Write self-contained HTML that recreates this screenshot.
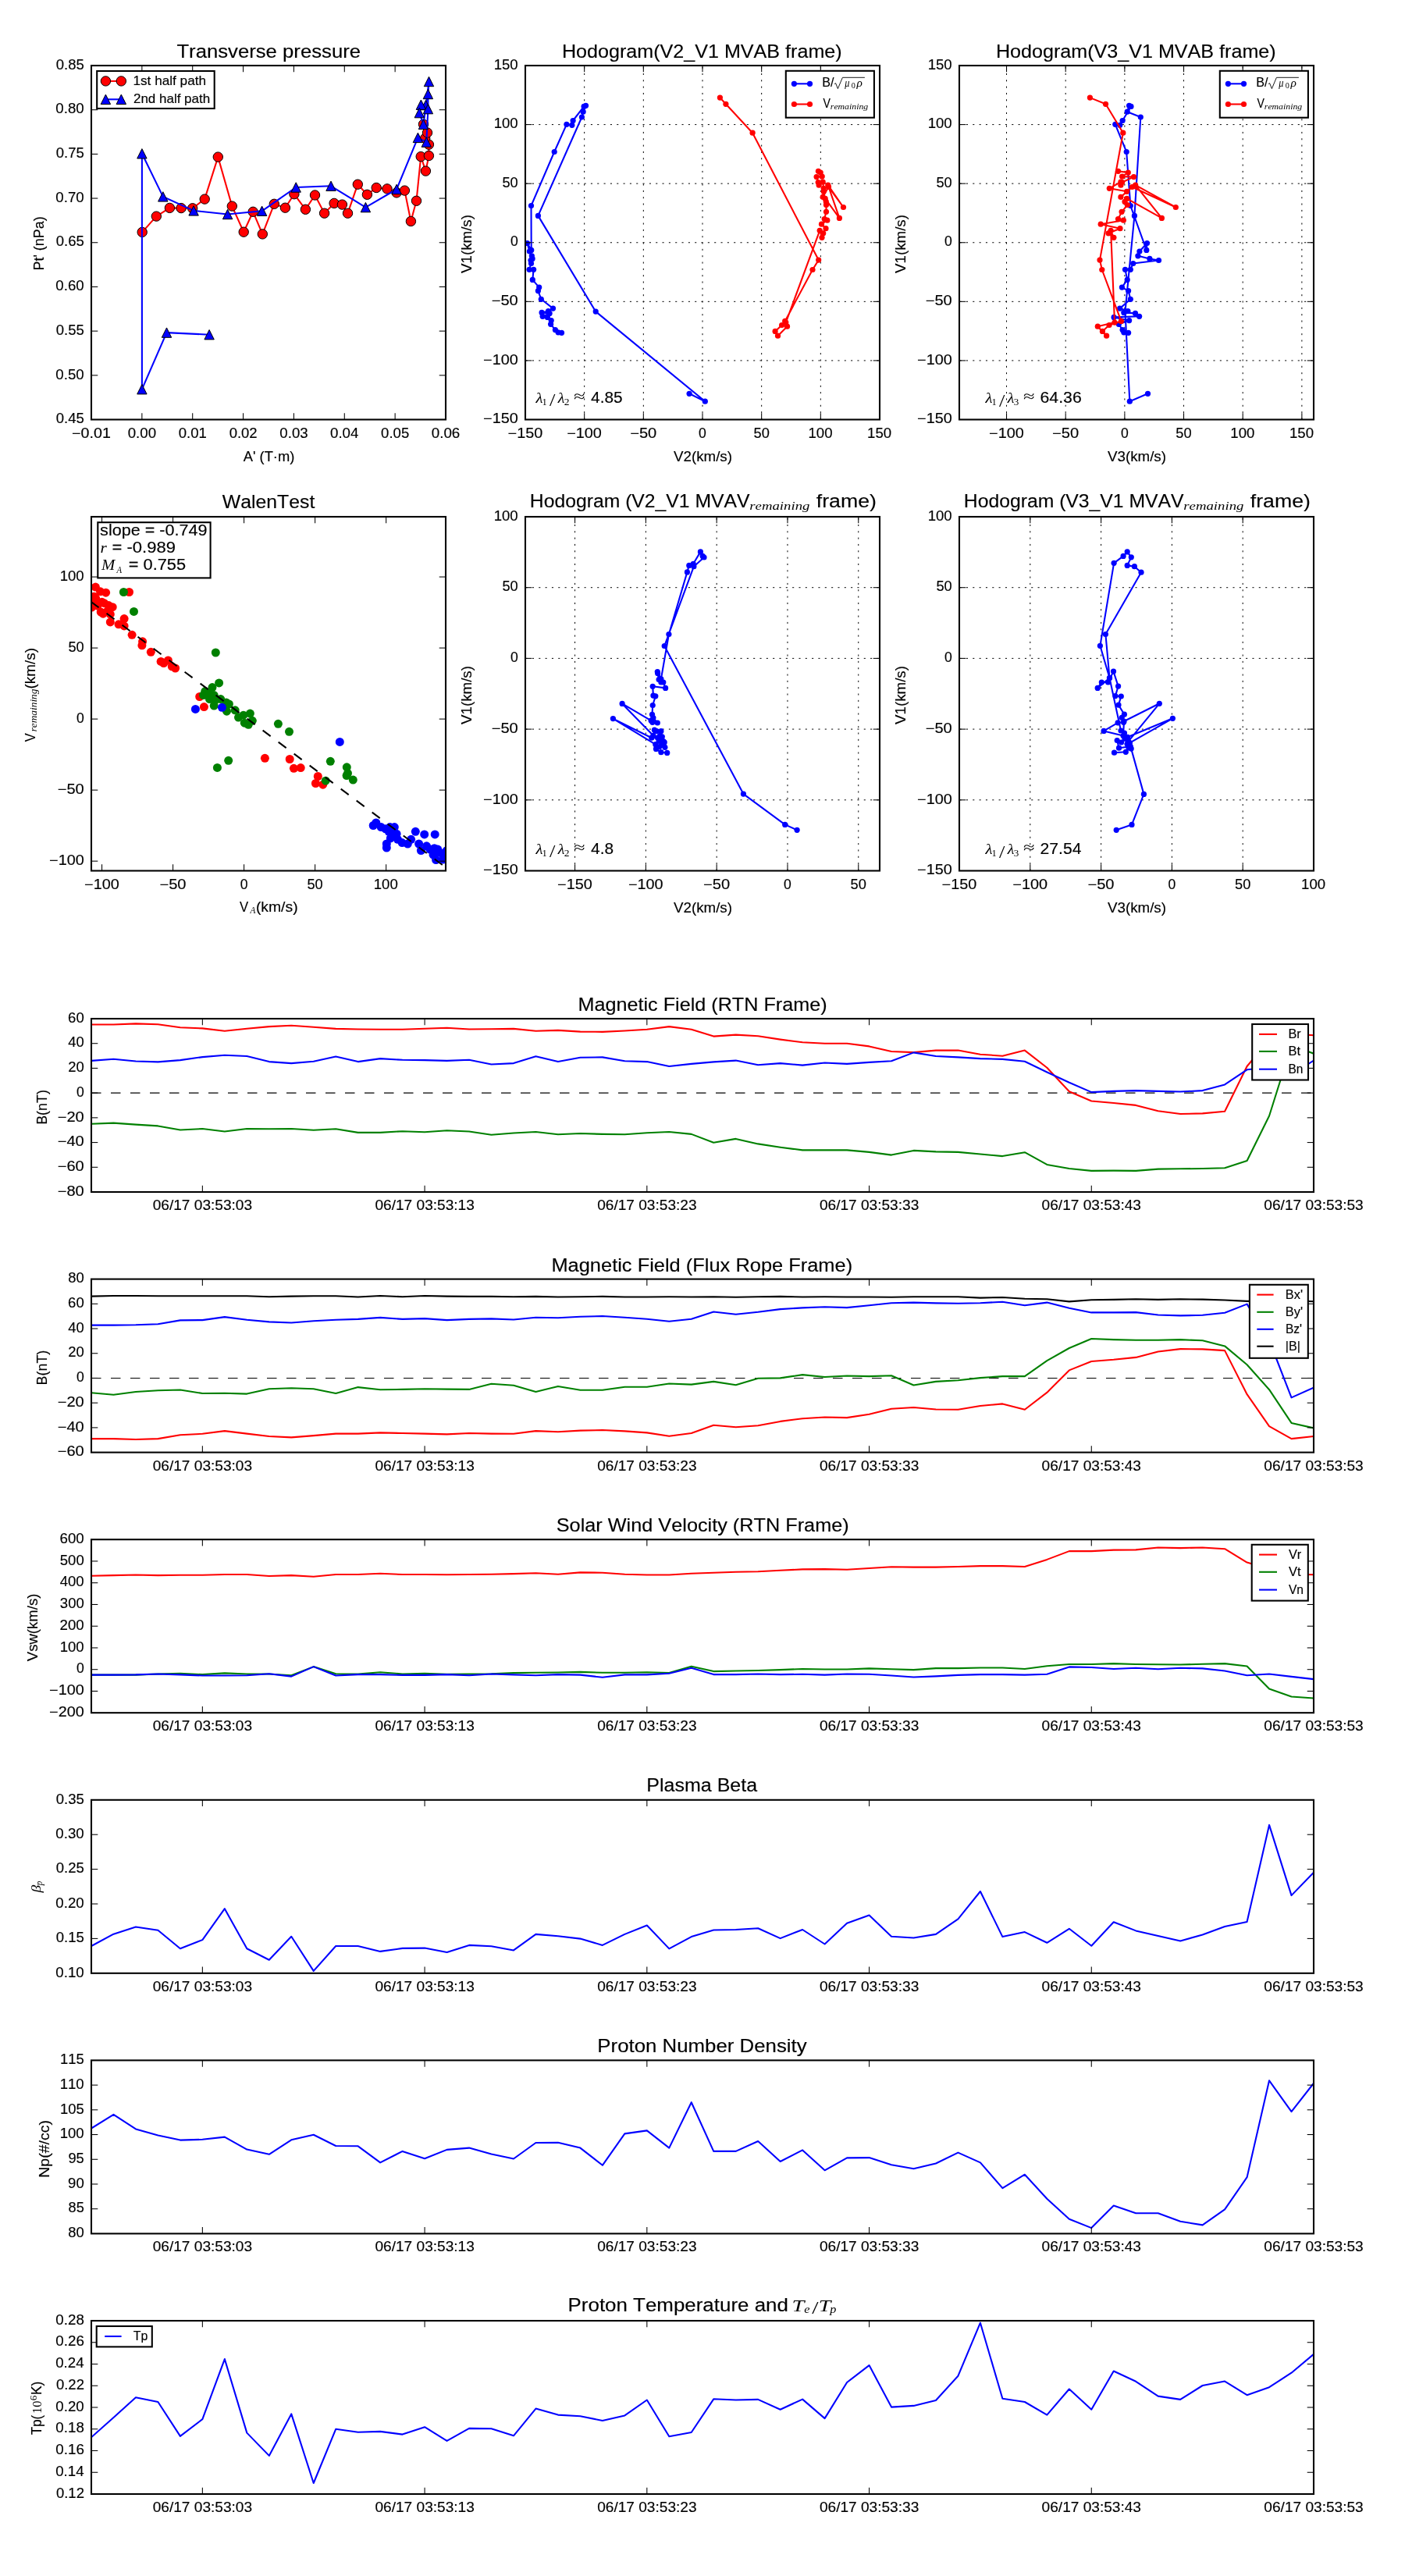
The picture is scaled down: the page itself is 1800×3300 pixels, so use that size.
<!DOCTYPE html>
<html><head><meta charset="utf-8"><style>html,body{margin:0;padding:0;background:#fff;}svg{display:block;will-change:transform;}</style></head><body>
<svg width="1800" height="3300" viewBox="0 0 1800 3300" font-family='"Liberation Sans", sans-serif'>
<style>text{stroke:#000;stroke-width:0.15px;font-kerning:none;font-feature-settings:"kern" 0,"liga" 0;font-variant-ligatures:none;}</style>
<rect width="1800" height="3300" fill="#fff"/>
<clipPath id="cA"><rect x="117" y="84" width="454" height="453.5"/></clipPath>
<g clip-path="url(#cA)">
<polyline points="182.2,297.4 200.3,277.1 217.4,266.4 232.1,266.6 246.7,266.8 262.2,255.1 279.3,201.1 297.3,264.1 312.2,297.2 324.2,271.3 336.3,299.9 351.3,261.3 365.4,266.2 376.9,248.7 391.4,268.3 403.5,250 415.6,273.2 428.1,260.4 438.4,262.1 445.5,273.2 458.3,236.2 470.4,249.3 482.2,240.5 496,241.9 508.1,246.9 518.4,244.1 526.4,283.5 533.5,257.3 539.2,200.6 545.4,219.1 549.4,199.5 549.4,185.2 544.7,177.2 547.5,170 542.5,159.2" fill="none" stroke="#ff0000" stroke-width="2.08" stroke-linejoin="round"/>
<circle cx="182.2" cy="297.4" r="6.2" fill="#ff0000" stroke="#000" stroke-width="1"/>
<circle cx="200.3" cy="277.1" r="6.2" fill="#ff0000" stroke="#000" stroke-width="1"/>
<circle cx="217.4" cy="266.4" r="6.2" fill="#ff0000" stroke="#000" stroke-width="1"/>
<circle cx="232.1" cy="266.6" r="6.2" fill="#ff0000" stroke="#000" stroke-width="1"/>
<circle cx="246.7" cy="266.8" r="6.2" fill="#ff0000" stroke="#000" stroke-width="1"/>
<circle cx="262.2" cy="255.1" r="6.2" fill="#ff0000" stroke="#000" stroke-width="1"/>
<circle cx="279.3" cy="201.1" r="6.2" fill="#ff0000" stroke="#000" stroke-width="1"/>
<circle cx="297.3" cy="264.1" r="6.2" fill="#ff0000" stroke="#000" stroke-width="1"/>
<circle cx="312.2" cy="297.2" r="6.2" fill="#ff0000" stroke="#000" stroke-width="1"/>
<circle cx="324.2" cy="271.3" r="6.2" fill="#ff0000" stroke="#000" stroke-width="1"/>
<circle cx="336.3" cy="299.9" r="6.2" fill="#ff0000" stroke="#000" stroke-width="1"/>
<circle cx="351.3" cy="261.3" r="6.2" fill="#ff0000" stroke="#000" stroke-width="1"/>
<circle cx="365.4" cy="266.2" r="6.2" fill="#ff0000" stroke="#000" stroke-width="1"/>
<circle cx="376.9" cy="248.7" r="6.2" fill="#ff0000" stroke="#000" stroke-width="1"/>
<circle cx="391.4" cy="268.3" r="6.2" fill="#ff0000" stroke="#000" stroke-width="1"/>
<circle cx="403.5" cy="250" r="6.2" fill="#ff0000" stroke="#000" stroke-width="1"/>
<circle cx="415.6" cy="273.2" r="6.2" fill="#ff0000" stroke="#000" stroke-width="1"/>
<circle cx="428.1" cy="260.4" r="6.2" fill="#ff0000" stroke="#000" stroke-width="1"/>
<circle cx="438.4" cy="262.1" r="6.2" fill="#ff0000" stroke="#000" stroke-width="1"/>
<circle cx="445.5" cy="273.2" r="6.2" fill="#ff0000" stroke="#000" stroke-width="1"/>
<circle cx="458.3" cy="236.2" r="6.2" fill="#ff0000" stroke="#000" stroke-width="1"/>
<circle cx="470.4" cy="249.3" r="6.2" fill="#ff0000" stroke="#000" stroke-width="1"/>
<circle cx="482.2" cy="240.5" r="6.2" fill="#ff0000" stroke="#000" stroke-width="1"/>
<circle cx="496" cy="241.9" r="6.2" fill="#ff0000" stroke="#000" stroke-width="1"/>
<circle cx="508.1" cy="246.9" r="6.2" fill="#ff0000" stroke="#000" stroke-width="1"/>
<circle cx="518.4" cy="244.1" r="6.2" fill="#ff0000" stroke="#000" stroke-width="1"/>
<circle cx="526.4" cy="283.5" r="6.2" fill="#ff0000" stroke="#000" stroke-width="1"/>
<circle cx="533.5" cy="257.3" r="6.2" fill="#ff0000" stroke="#000" stroke-width="1"/>
<circle cx="539.2" cy="200.6" r="6.2" fill="#ff0000" stroke="#000" stroke-width="1"/>
<circle cx="545.4" cy="219.1" r="6.2" fill="#ff0000" stroke="#000" stroke-width="1"/>
<circle cx="549.4" cy="199.5" r="6.2" fill="#ff0000" stroke="#000" stroke-width="1"/>
<circle cx="549.4" cy="185.2" r="6.2" fill="#ff0000" stroke="#000" stroke-width="1"/>
<circle cx="544.7" cy="177.2" r="6.2" fill="#ff0000" stroke="#000" stroke-width="1"/>
<circle cx="547.5" cy="170" r="6.2" fill="#ff0000" stroke="#000" stroke-width="1"/>
<circle cx="542.5" cy="159.2" r="6.2" fill="#ff0000" stroke="#000" stroke-width="1"/>
<polyline points="545.5,134.6 539.4,134.2 537.3,144.6 542.5,159.3 549.5,104.5 548.4,120.5 548.4,139.6 546.3,182.1 535.4,176.4 508.1,242.5 468.4,265.6 424,238.3 379.2,240 335.6,270.3 291.6,274.5 248.1,269.9 208.8,251.9 181.9,196.8 181.9,498.7 213.5,426.1 268.1,428.7" fill="none" stroke="#0000ff" stroke-width="2.08" stroke-linejoin="round"/>
<path d="M545.5 128.4L539.3 140.8L551.7 140.8Z" fill="#0000ff" stroke="#000" stroke-width="1"/>
<path d="M539.4 128L533.2 140.4L545.6 140.4Z" fill="#0000ff" stroke="#000" stroke-width="1"/>
<path d="M537.3 138.4L531.1 150.8L543.5 150.8Z" fill="#0000ff" stroke="#000" stroke-width="1"/>
<path d="M542.5 153.1L536.3 165.5L548.7 165.5Z" fill="#0000ff" stroke="#000" stroke-width="1"/>
<path d="M549.5 98.3L543.3 110.7L555.7 110.7Z" fill="#0000ff" stroke="#000" stroke-width="1"/>
<path d="M548.4 114.3L542.2 126.7L554.6 126.7Z" fill="#0000ff" stroke="#000" stroke-width="1"/>
<path d="M548.4 133.4L542.2 145.8L554.6 145.8Z" fill="#0000ff" stroke="#000" stroke-width="1"/>
<path d="M546.3 175.9L540.1 188.3L552.5 188.3Z" fill="#0000ff" stroke="#000" stroke-width="1"/>
<path d="M535.4 170.2L529.2 182.6L541.6 182.6Z" fill="#0000ff" stroke="#000" stroke-width="1"/>
<path d="M508.1 236.3L501.9 248.7L514.3 248.7Z" fill="#0000ff" stroke="#000" stroke-width="1"/>
<path d="M468.4 259.4L462.2 271.8L474.6 271.8Z" fill="#0000ff" stroke="#000" stroke-width="1"/>
<path d="M424 232.1L417.8 244.5L430.2 244.5Z" fill="#0000ff" stroke="#000" stroke-width="1"/>
<path d="M379.2 233.8L373 246.2L385.4 246.2Z" fill="#0000ff" stroke="#000" stroke-width="1"/>
<path d="M335.6 264.1L329.4 276.5L341.8 276.5Z" fill="#0000ff" stroke="#000" stroke-width="1"/>
<path d="M291.6 268.3L285.4 280.7L297.8 280.7Z" fill="#0000ff" stroke="#000" stroke-width="1"/>
<path d="M248.1 263.7L241.9 276.1L254.3 276.1Z" fill="#0000ff" stroke="#000" stroke-width="1"/>
<path d="M208.8 245.7L202.6 258.1L215 258.1Z" fill="#0000ff" stroke="#000" stroke-width="1"/>
<path d="M181.9 190.6L175.7 203L188.1 203Z" fill="#0000ff" stroke="#000" stroke-width="1"/>
<path d="M181.9 492.5L175.7 504.9L188.1 504.9Z" fill="#0000ff" stroke="#000" stroke-width="1"/>
<path d="M213.5 419.9L207.3 432.3L219.7 432.3Z" fill="#0000ff" stroke="#000" stroke-width="1"/>
<path d="M268.1 422.5L261.9 434.9L274.3 434.9Z" fill="#0000ff" stroke="#000" stroke-width="1"/>
</g>
<rect x="117" y="84" width="454" height="453.5" fill="none" stroke="#000" stroke-width="2.08"/>
<line x1="181.86" y1="537.5" x2="181.86" y2="529.2" stroke="#000" stroke-width="1.05"/>
<line x1="181.86" y1="84" x2="181.86" y2="92.3" stroke="#000" stroke-width="1.05"/>
<line x1="246.71" y1="537.5" x2="246.71" y2="529.2" stroke="#000" stroke-width="1.05"/>
<line x1="246.71" y1="84" x2="246.71" y2="92.3" stroke="#000" stroke-width="1.05"/>
<line x1="311.57" y1="537.5" x2="311.57" y2="529.2" stroke="#000" stroke-width="1.05"/>
<line x1="311.57" y1="84" x2="311.57" y2="92.3" stroke="#000" stroke-width="1.05"/>
<line x1="376.43" y1="537.5" x2="376.43" y2="529.2" stroke="#000" stroke-width="1.05"/>
<line x1="376.43" y1="84" x2="376.43" y2="92.3" stroke="#000" stroke-width="1.05"/>
<line x1="441.29" y1="537.5" x2="441.29" y2="529.2" stroke="#000" stroke-width="1.05"/>
<line x1="441.29" y1="84" x2="441.29" y2="92.3" stroke="#000" stroke-width="1.05"/>
<line x1="506.14" y1="537.5" x2="506.14" y2="529.2" stroke="#000" stroke-width="1.05"/>
<line x1="506.14" y1="84" x2="506.14" y2="92.3" stroke="#000" stroke-width="1.05"/>
<line x1="117" y1="480.81" x2="125.3" y2="480.81" stroke="#000" stroke-width="1.05"/>
<line x1="571" y1="480.81" x2="562.7" y2="480.81" stroke="#000" stroke-width="1.05"/>
<line x1="117" y1="424.12" x2="125.3" y2="424.12" stroke="#000" stroke-width="1.05"/>
<line x1="571" y1="424.12" x2="562.7" y2="424.12" stroke="#000" stroke-width="1.05"/>
<line x1="117" y1="367.44" x2="125.3" y2="367.44" stroke="#000" stroke-width="1.05"/>
<line x1="571" y1="367.44" x2="562.7" y2="367.44" stroke="#000" stroke-width="1.05"/>
<line x1="117" y1="310.75" x2="125.3" y2="310.75" stroke="#000" stroke-width="1.05"/>
<line x1="571" y1="310.75" x2="562.7" y2="310.75" stroke="#000" stroke-width="1.05"/>
<line x1="117" y1="254.06" x2="125.3" y2="254.06" stroke="#000" stroke-width="1.05"/>
<line x1="571" y1="254.06" x2="562.7" y2="254.06" stroke="#000" stroke-width="1.05"/>
<line x1="117" y1="197.38" x2="125.3" y2="197.38" stroke="#000" stroke-width="1.05"/>
<line x1="571" y1="197.38" x2="562.7" y2="197.38" stroke="#000" stroke-width="1.05"/>
<line x1="117" y1="140.69" x2="125.3" y2="140.69" stroke="#000" stroke-width="1.05"/>
<line x1="571" y1="140.69" x2="562.7" y2="140.69" stroke="#000" stroke-width="1.05"/>
<text x="92.14" y="560.5" font-size="17.5" textLength="49.71" lengthAdjust="spacingAndGlyphs">−0.01</text>
<text x="163.67" y="560.5" font-size="17.5" textLength="36.37" lengthAdjust="spacingAndGlyphs">0.00</text>
<text x="228.75" y="560.5" font-size="17.5" textLength="36.11" lengthAdjust="spacingAndGlyphs">0.01</text>
<text x="293.67" y="560.5" font-size="17.5" textLength="36" lengthAdjust="spacingAndGlyphs">0.02</text>
<text x="358.36" y="560.5" font-size="17.5" textLength="36.23" lengthAdjust="spacingAndGlyphs">0.03</text>
<text x="423.01" y="560.5" font-size="17.5" textLength="36.36" lengthAdjust="spacingAndGlyphs">0.04</text>
<text x="488.14" y="560.5" font-size="17.5" textLength="36.06" lengthAdjust="spacingAndGlyphs">0.05</text>
<text x="552.78" y="560.5" font-size="17.5" textLength="36.53" lengthAdjust="spacingAndGlyphs">0.06</text>
<text x="71.71" y="542.2" font-size="17.5" textLength="36.06" lengthAdjust="spacingAndGlyphs">0.45</text>
<text x="71.36" y="485.51" font-size="17.5" textLength="36.37" lengthAdjust="spacingAndGlyphs">0.50</text>
<text x="71.71" y="428.82" font-size="17.5" textLength="36.06" lengthAdjust="spacingAndGlyphs">0.55</text>
<text x="71.36" y="372.14" font-size="17.5" textLength="36.37" lengthAdjust="spacingAndGlyphs">0.60</text>
<text x="71.71" y="315.45" font-size="17.5" textLength="36.06" lengthAdjust="spacingAndGlyphs">0.65</text>
<text x="71.36" y="258.76" font-size="17.5" textLength="36.37" lengthAdjust="spacingAndGlyphs">0.70</text>
<text x="71.71" y="202.08" font-size="17.5" textLength="36.06" lengthAdjust="spacingAndGlyphs">0.75</text>
<text x="71.36" y="145.39" font-size="17.5" textLength="36.37" lengthAdjust="spacingAndGlyphs">0.80</text>
<text x="71.71" y="88.7" font-size="17.5" textLength="36.06" lengthAdjust="spacingAndGlyphs">0.85</text>
<text x="226.42" y="74.05" font-size="24.57" textLength="235.62" lengthAdjust="spacingAndGlyphs">Transverse pressure</text>
<text x="311.74" y="590.8" font-size="17.5" textLength="65.62" lengthAdjust="spacingAndGlyphs">A' (T·m)</text>
<text transform="translate(55.9 311.75) rotate(-90)" x="-34.71" y="0" font-size="17.5" textLength="69.07" lengthAdjust="spacingAndGlyphs">Pt' (nPa)</text>
<rect x="124.2" y="91" width="150.5" height="48" fill="#fff" stroke="#000" stroke-width="2.08"/>
<line x1="135.4" y1="103.9" x2="155.3" y2="103.9" stroke="#ff0000" stroke-width="2.08"/>
<circle cx="135.4" cy="103.9" r="6.2" fill="#ff0000" stroke="#000" stroke-width="1"/>
<circle cx="155.3" cy="103.9" r="6.2" fill="#ff0000" stroke="#000" stroke-width="1"/>
<line x1="135.4" y1="127.3" x2="155.3" y2="127.3" stroke="#0000ff" stroke-width="2.08"/>
<path d="M135.4 121.1L129.2 133.5L141.6 133.5Z" fill="#0000ff" stroke="#000" stroke-width="1"/>
<path d="M155.3 121.1L149.1 133.5L161.5 133.5Z" fill="#0000ff" stroke="#000" stroke-width="1"/>
<text x="170.49" y="109.1" font-size="16.2" textLength="93.52" lengthAdjust="spacingAndGlyphs">1st half path</text>
<text x="170.95" y="131.8" font-size="16.2" textLength="98.26" lengthAdjust="spacingAndGlyphs">2nd half path</text>
<clipPath id="cB"><rect x="673" y="84" width="454" height="453.5"/></clipPath>
<line x1="748.67" y1="537.5" x2="748.67" y2="84" stroke="#000" stroke-width="1" stroke-dasharray="2.08 6.25"/>
<line x1="824.33" y1="537.5" x2="824.33" y2="84" stroke="#000" stroke-width="1" stroke-dasharray="2.08 6.25"/>
<line x1="900" y1="537.5" x2="900" y2="84" stroke="#000" stroke-width="1" stroke-dasharray="2.08 6.25"/>
<line x1="975.67" y1="537.5" x2="975.67" y2="84" stroke="#000" stroke-width="1" stroke-dasharray="2.08 6.25"/>
<line x1="1051.33" y1="537.5" x2="1051.33" y2="84" stroke="#000" stroke-width="1" stroke-dasharray="2.08 6.25"/>
<line x1="673" y1="461.92" x2="1127" y2="461.92" stroke="#000" stroke-width="1" stroke-dasharray="2.08 6.25" stroke-dashoffset="-0.6"/>
<line x1="673" y1="386.33" x2="1127" y2="386.33" stroke="#000" stroke-width="1" stroke-dasharray="2.08 6.25" stroke-dashoffset="-0.6"/>
<line x1="673" y1="310.75" x2="1127" y2="310.75" stroke="#000" stroke-width="1" stroke-dasharray="2.08 6.25" stroke-dashoffset="-0.6"/>
<line x1="673" y1="235.17" x2="1127" y2="235.17" stroke="#000" stroke-width="1" stroke-dasharray="2.08 6.25" stroke-dashoffset="-0.6"/>
<line x1="673" y1="159.58" x2="1127" y2="159.58" stroke="#000" stroke-width="1" stroke-dasharray="2.08 6.25" stroke-dashoffset="-0.6"/>
<g clip-path="url(#cB)">
<polyline points="719.5,426.3 715.1,425.8 711.4,422.6 705.6,415.3 706.2,410.6 701.4,406.4 695.2,405.3 704.1,401.4 694.1,400.4 702.5,398.5 708.5,395.1 693.3,383.3 689.4,372.6 690.7,368.1 682.3,358.4 683.6,345.3 678.1,345.3 680.5,337.5 680,333.5 682.1,331.4 681.3,327.8 678.4,322 675.5,311.5 680.7,320.4 680.5,263.5 710.2,194.5 725.9,159.3 732.8,160.3 734.1,154.5 748.1,136.4 750.5,135.3 747.1,143.2 745.4,150 689.4,276.4 763.2,399.1 903.3,514.2 883.1,504.3" fill="none" stroke="#0000ff" stroke-width="2.08" stroke-linejoin="round"/>
<circle cx="719.5" cy="426.3" r="3.6" fill="#0000ff"/>
<circle cx="715.1" cy="425.8" r="3.6" fill="#0000ff"/>
<circle cx="711.4" cy="422.6" r="3.6" fill="#0000ff"/>
<circle cx="705.6" cy="415.3" r="3.6" fill="#0000ff"/>
<circle cx="706.2" cy="410.6" r="3.6" fill="#0000ff"/>
<circle cx="701.4" cy="406.4" r="3.6" fill="#0000ff"/>
<circle cx="695.2" cy="405.3" r="3.6" fill="#0000ff"/>
<circle cx="704.1" cy="401.4" r="3.6" fill="#0000ff"/>
<circle cx="694.1" cy="400.4" r="3.6" fill="#0000ff"/>
<circle cx="702.5" cy="398.5" r="3.6" fill="#0000ff"/>
<circle cx="708.5" cy="395.1" r="3.6" fill="#0000ff"/>
<circle cx="693.3" cy="383.3" r="3.6" fill="#0000ff"/>
<circle cx="689.4" cy="372.6" r="3.6" fill="#0000ff"/>
<circle cx="690.7" cy="368.1" r="3.6" fill="#0000ff"/>
<circle cx="682.3" cy="358.4" r="3.6" fill="#0000ff"/>
<circle cx="683.6" cy="345.3" r="3.6" fill="#0000ff"/>
<circle cx="678.1" cy="345.3" r="3.6" fill="#0000ff"/>
<circle cx="680.5" cy="337.5" r="3.6" fill="#0000ff"/>
<circle cx="680" cy="333.5" r="3.6" fill="#0000ff"/>
<circle cx="682.1" cy="331.4" r="3.6" fill="#0000ff"/>
<circle cx="681.3" cy="327.8" r="3.6" fill="#0000ff"/>
<circle cx="678.4" cy="322" r="3.6" fill="#0000ff"/>
<circle cx="675.5" cy="311.5" r="3.6" fill="#0000ff"/>
<circle cx="680.7" cy="320.4" r="3.6" fill="#0000ff"/>
<circle cx="680.5" cy="263.5" r="3.6" fill="#0000ff"/>
<circle cx="710.2" cy="194.5" r="3.6" fill="#0000ff"/>
<circle cx="725.9" cy="159.3" r="3.6" fill="#0000ff"/>
<circle cx="732.8" cy="160.3" r="3.6" fill="#0000ff"/>
<circle cx="734.1" cy="154.5" r="3.6" fill="#0000ff"/>
<circle cx="748.1" cy="136.4" r="3.6" fill="#0000ff"/>
<circle cx="750.5" cy="135.3" r="3.6" fill="#0000ff"/>
<circle cx="747.1" cy="143.2" r="3.6" fill="#0000ff"/>
<circle cx="745.4" cy="150" r="3.6" fill="#0000ff"/>
<circle cx="689.4" cy="276.4" r="3.6" fill="#0000ff"/>
<circle cx="763.2" cy="399.1" r="3.6" fill="#0000ff"/>
<circle cx="903.3" cy="514.2" r="3.6" fill="#0000ff"/>
<circle cx="883.1" cy="504.3" r="3.6" fill="#0000ff"/>
<polyline points="922.4,125.1 929.9,133.3 964.1,170.2 1048.7,333.1 1041,345.5 1005.7,411.4 1001.6,416.5 993.1,424.4 996.5,430.2 1008.5,418.2 1006.8,413.1 1050.2,295.3 1053,304.3 1054.7,298.8 1058,292.7 1052.5,287.2 1059.8,282.2 1056.2,280.6 1058.5,271.3 1058.5,262.5 1058.3,258.4 1057.2,254.4 1075.4,279.4 1060.8,237.2 1080.5,265.5 1061.5,239.5 1054.2,252.4 1055.2,245.3 1055.2,241.3 1054.2,233.2 1049.2,237.2 1048.2,233.5 1046.1,226.6 1053.2,226.1 1051.2,221.1 1048.4,219.3" fill="none" stroke="#ff0000" stroke-width="2.08" stroke-linejoin="round"/>
<circle cx="922.4" cy="125.1" r="3.6" fill="#ff0000"/>
<circle cx="929.9" cy="133.3" r="3.6" fill="#ff0000"/>
<circle cx="964.1" cy="170.2" r="3.6" fill="#ff0000"/>
<circle cx="1048.7" cy="333.1" r="3.6" fill="#ff0000"/>
<circle cx="1041" cy="345.5" r="3.6" fill="#ff0000"/>
<circle cx="1005.7" cy="411.4" r="3.6" fill="#ff0000"/>
<circle cx="1001.6" cy="416.5" r="3.6" fill="#ff0000"/>
<circle cx="993.1" cy="424.4" r="3.6" fill="#ff0000"/>
<circle cx="996.5" cy="430.2" r="3.6" fill="#ff0000"/>
<circle cx="1008.5" cy="418.2" r="3.6" fill="#ff0000"/>
<circle cx="1006.8" cy="413.1" r="3.6" fill="#ff0000"/>
<circle cx="1050.2" cy="295.3" r="3.6" fill="#ff0000"/>
<circle cx="1053" cy="304.3" r="3.6" fill="#ff0000"/>
<circle cx="1054.7" cy="298.8" r="3.6" fill="#ff0000"/>
<circle cx="1058" cy="292.7" r="3.6" fill="#ff0000"/>
<circle cx="1052.5" cy="287.2" r="3.6" fill="#ff0000"/>
<circle cx="1059.8" cy="282.2" r="3.6" fill="#ff0000"/>
<circle cx="1056.2" cy="280.6" r="3.6" fill="#ff0000"/>
<circle cx="1058.5" cy="271.3" r="3.6" fill="#ff0000"/>
<circle cx="1058.5" cy="262.5" r="3.6" fill="#ff0000"/>
<circle cx="1058.3" cy="258.4" r="3.6" fill="#ff0000"/>
<circle cx="1057.2" cy="254.4" r="3.6" fill="#ff0000"/>
<circle cx="1075.4" cy="279.4" r="3.6" fill="#ff0000"/>
<circle cx="1060.8" cy="237.2" r="3.6" fill="#ff0000"/>
<circle cx="1080.5" cy="265.5" r="3.6" fill="#ff0000"/>
<circle cx="1061.5" cy="239.5" r="3.6" fill="#ff0000"/>
<circle cx="1054.2" cy="252.4" r="3.6" fill="#ff0000"/>
<circle cx="1055.2" cy="245.3" r="3.6" fill="#ff0000"/>
<circle cx="1055.2" cy="241.3" r="3.6" fill="#ff0000"/>
<circle cx="1054.2" cy="233.2" r="3.6" fill="#ff0000"/>
<circle cx="1049.2" cy="237.2" r="3.6" fill="#ff0000"/>
<circle cx="1048.2" cy="233.5" r="3.6" fill="#ff0000"/>
<circle cx="1046.1" cy="226.6" r="3.6" fill="#ff0000"/>
<circle cx="1053.2" cy="226.1" r="3.6" fill="#ff0000"/>
<circle cx="1051.2" cy="221.1" r="3.6" fill="#ff0000"/>
<circle cx="1048.4" cy="219.3" r="3.6" fill="#ff0000"/>
</g>
<rect x="673" y="84" width="454" height="453.5" fill="none" stroke="#000" stroke-width="2.08"/>
<line x1="748.67" y1="537.5" x2="748.67" y2="529.2" stroke="#000" stroke-width="1.05"/>
<line x1="748.67" y1="84" x2="748.67" y2="92.3" stroke="#000" stroke-width="1.05"/>
<line x1="824.33" y1="537.5" x2="824.33" y2="529.2" stroke="#000" stroke-width="1.05"/>
<line x1="824.33" y1="84" x2="824.33" y2="92.3" stroke="#000" stroke-width="1.05"/>
<line x1="900" y1="537.5" x2="900" y2="529.2" stroke="#000" stroke-width="1.05"/>
<line x1="900" y1="84" x2="900" y2="92.3" stroke="#000" stroke-width="1.05"/>
<line x1="975.67" y1="537.5" x2="975.67" y2="529.2" stroke="#000" stroke-width="1.05"/>
<line x1="975.67" y1="84" x2="975.67" y2="92.3" stroke="#000" stroke-width="1.05"/>
<line x1="1051.33" y1="537.5" x2="1051.33" y2="529.2" stroke="#000" stroke-width="1.05"/>
<line x1="1051.33" y1="84" x2="1051.33" y2="92.3" stroke="#000" stroke-width="1.05"/>
<line x1="673" y1="461.92" x2="681.3" y2="461.92" stroke="#000" stroke-width="1.05"/>
<line x1="1127" y1="461.92" x2="1118.7" y2="461.92" stroke="#000" stroke-width="1.05"/>
<line x1="673" y1="386.33" x2="681.3" y2="386.33" stroke="#000" stroke-width="1.05"/>
<line x1="1127" y1="386.33" x2="1118.7" y2="386.33" stroke="#000" stroke-width="1.05"/>
<line x1="673" y1="310.75" x2="681.3" y2="310.75" stroke="#000" stroke-width="1.05"/>
<line x1="1127" y1="310.75" x2="1118.7" y2="310.75" stroke="#000" stroke-width="1.05"/>
<line x1="673" y1="235.17" x2="681.3" y2="235.17" stroke="#000" stroke-width="1.05"/>
<line x1="1127" y1="235.17" x2="1118.7" y2="235.17" stroke="#000" stroke-width="1.05"/>
<line x1="673" y1="159.58" x2="681.3" y2="159.58" stroke="#000" stroke-width="1.05"/>
<line x1="1127" y1="159.58" x2="1118.7" y2="159.58" stroke="#000" stroke-width="1.05"/>
<text x="650.57" y="560.5" font-size="17.5" textLength="44.67" lengthAdjust="spacingAndGlyphs">−150</text>
<text x="726.23" y="560.5" font-size="17.5" textLength="44.67" lengthAdjust="spacingAndGlyphs">−100</text>
<text x="807.19" y="560.5" font-size="17.5" textLength="34.08" lengthAdjust="spacingAndGlyphs">−50</text>
<text x="895.11" y="560.5" font-size="17.5" textLength="9.77" lengthAdjust="spacingAndGlyphs">0</text>
<text x="965.53" y="560.5" font-size="17.5" textLength="20.26" lengthAdjust="spacingAndGlyphs">50</text>
<text x="1035.48" y="560.5" font-size="17.5" textLength="31.02" lengthAdjust="spacingAndGlyphs">100</text>
<text x="1111.14" y="560.5" font-size="17.5" textLength="31.02" lengthAdjust="spacingAndGlyphs">150</text>
<text x="619.11" y="542.2" font-size="17.5" textLength="44.67" lengthAdjust="spacingAndGlyphs">−150</text>
<text x="619.11" y="466.62" font-size="17.5" textLength="44.67" lengthAdjust="spacingAndGlyphs">−100</text>
<text x="629.7" y="391.03" font-size="17.5" textLength="34.08" lengthAdjust="spacingAndGlyphs">−50</text>
<text x="653.91" y="315.45" font-size="17.5" textLength="9.77" lengthAdjust="spacingAndGlyphs">0</text>
<text x="643.45" y="239.87" font-size="17.5" textLength="20.26" lengthAdjust="spacingAndGlyphs">50</text>
<text x="632.7" y="164.28" font-size="17.5" textLength="31.02" lengthAdjust="spacingAndGlyphs">100</text>
<text x="632.7" y="88.7" font-size="17.5" textLength="31.02" lengthAdjust="spacingAndGlyphs">150</text>
<text x="719.94" y="74" font-size="24.57" textLength="358.72" lengthAdjust="spacingAndGlyphs">Hodogram(V2_V1 MVAB frame)</text>
<text x="863.09" y="590.8" font-size="17.5" textLength="74.89" lengthAdjust="spacingAndGlyphs">V2(km/s)</text>
<text transform="translate(603.8 313.05) rotate(-90)" x="-36.91" y="0" font-size="17.5" textLength="74.89" lengthAdjust="spacingAndGlyphs">V1(km/s)</text>
<rect x="1006.8" y="90.8" width="113.1" height="59.9" fill="#fff" stroke="#000" stroke-width="2.08"/>
<line x1="1017.4" y1="107.3" x2="1037.5" y2="107.3" stroke="#0000ff" stroke-width="2.08"/>
<circle cx="1017.4" cy="107.3" r="3.6" fill="#0000ff"/>
<circle cx="1037.5" cy="107.3" r="3.6" fill="#0000ff"/>
<line x1="1017.4" y1="133.5" x2="1037.5" y2="133.5" stroke="#ff0000" stroke-width="2.08"/>
<circle cx="1017.4" cy="133.5" r="3.6" fill="#ff0000"/>
<circle cx="1037.5" cy="133.5" r="3.6" fill="#ff0000"/>
<text x="1053.28" y="110.8" font-size="16.2" textLength="15.22" lengthAdjust="spacingAndGlyphs">B/</text>
<path d="M1069 107.6 L1070.6 106.6 L1073.4 113.6 L1079.4 99.3 L1107.9 99.3" fill="none" stroke="#000" stroke-width="0.9" stroke-linejoin="miter"/>
<text x="1082.31" y="110.8" font-size="14.5" font-family='"Liberation Serif", serif' font-style="italic" style="stroke:none" textLength="6.2" lengthAdjust="spacingAndGlyphs">μ</text>
<text x="1090.71" y="113.3" font-size="10.5" font-family='"Liberation Serif", serif' style="stroke:none" textLength="5.07" lengthAdjust="spacingAndGlyphs">0</text>
<text x="1097.49" y="110.8" font-size="14.5" font-family='"Liberation Serif", serif' font-style="italic" style="stroke:none" textLength="7.38" lengthAdjust="spacingAndGlyphs">ρ</text>
<text x="1054.54" y="137.7" font-size="16.2" textLength="9.42" lengthAdjust="spacingAndGlyphs">V</text>
<text x="1063.82" y="140" font-size="11" font-family='"Liberation Serif", serif' font-style="italic" style="stroke:none" textLength="48.42" lengthAdjust="spacingAndGlyphs">remaining</text>
<text x="686.51" y="515.9" font-size="19" font-family='"Liberation Serif", serif' font-style="italic" style="stroke:none" textLength="9.01" lengthAdjust="spacingAndGlyphs">λ</text>
<text x="694.5" y="518.8" font-size="13.5" font-family='"Liberation Serif", serif' style="stroke:none" textLength="6.25" lengthAdjust="spacingAndGlyphs">1</text>
<text x="704" y="520.3" font-size="24" font-family='"Liberation Serif", serif' style="stroke:none" textLength="7.4" lengthAdjust="spacingAndGlyphs">/</text>
<text x="714.89" y="515.9" font-size="19" font-family='"Liberation Serif", serif' font-style="italic" style="stroke:none" textLength="8.61" lengthAdjust="spacingAndGlyphs">λ</text>
<text x="722.81" y="518.8" font-size="13.5" font-family='"Liberation Serif", serif' style="stroke:none" textLength="6.74" lengthAdjust="spacingAndGlyphs">2</text>
<text x="735.06" y="514.1" font-size="19" font-family='"Liberation Serif", serif' style="stroke:none" textLength="14.62" lengthAdjust="spacingAndGlyphs">≈</text>
<text x="757.12" y="515.9" font-size="19.69" textLength="40.55" lengthAdjust="spacingAndGlyphs">4.85</text>
<clipPath id="cC"><rect x="1229" y="84" width="454" height="453.5"/></clipPath>
<line x1="1289.53" y1="537.5" x2="1289.53" y2="84" stroke="#000" stroke-width="1" stroke-dasharray="2.08 6.25"/>
<line x1="1365.2" y1="537.5" x2="1365.2" y2="84" stroke="#000" stroke-width="1" stroke-dasharray="2.08 6.25"/>
<line x1="1440.87" y1="537.5" x2="1440.87" y2="84" stroke="#000" stroke-width="1" stroke-dasharray="2.08 6.25"/>
<line x1="1516.53" y1="537.5" x2="1516.53" y2="84" stroke="#000" stroke-width="1" stroke-dasharray="2.08 6.25"/>
<line x1="1592.2" y1="537.5" x2="1592.2" y2="84" stroke="#000" stroke-width="1" stroke-dasharray="2.08 6.25"/>
<line x1="1667.87" y1="537.5" x2="1667.87" y2="84" stroke="#000" stroke-width="1" stroke-dasharray="2.08 6.25"/>
<line x1="1229" y1="461.92" x2="1683" y2="461.92" stroke="#000" stroke-width="1" stroke-dasharray="2.08 6.25" stroke-dashoffset="-0.6"/>
<line x1="1229" y1="386.33" x2="1683" y2="386.33" stroke="#000" stroke-width="1" stroke-dasharray="2.08 6.25" stroke-dashoffset="-0.6"/>
<line x1="1229" y1="310.75" x2="1683" y2="310.75" stroke="#000" stroke-width="1" stroke-dasharray="2.08 6.25" stroke-dashoffset="-0.6"/>
<line x1="1229" y1="235.17" x2="1683" y2="235.17" stroke="#000" stroke-width="1" stroke-dasharray="2.08 6.25" stroke-dashoffset="-0.6"/>
<line x1="1229" y1="159.58" x2="1683" y2="159.58" stroke="#000" stroke-width="1" stroke-dasharray="2.08 6.25" stroke-dashoffset="-0.6"/>
<g clip-path="url(#cC)">
<polyline points="1445.6,426.3 1439.8,425.8 1438.1,422.6 1433.3,415.3 1446.6,410.6 1427.1,406.4 1459.6,405.3 1454.5,401.4 1439.8,400.4 1444.9,398.5 1434.7,395.1 1448.3,383.3 1445.6,372.6 1437.4,368.1 1444.2,358.4 1441.5,345.3 1448.3,345.3 1451.7,337.5 1484.5,333.5 1472.9,331.4 1457.9,327.8 1459.9,322 1469.5,311.5 1468.8,320.4 1448.3,263.5 1443.2,194.5 1428.8,159.3 1434.7,160.3 1438.1,154.5 1449,136.4 1446.6,135.3 1444.2,143.2 1461.3,150 1453.4,276.4 1441.5,399.1 1447.3,514.2 1470.5,504.3" fill="none" stroke="#0000ff" stroke-width="2.08" stroke-linejoin="round"/>
<circle cx="1445.6" cy="426.3" r="3.6" fill="#0000ff"/>
<circle cx="1439.8" cy="425.8" r="3.6" fill="#0000ff"/>
<circle cx="1438.1" cy="422.6" r="3.6" fill="#0000ff"/>
<circle cx="1433.3" cy="415.3" r="3.6" fill="#0000ff"/>
<circle cx="1446.6" cy="410.6" r="3.6" fill="#0000ff"/>
<circle cx="1427.1" cy="406.4" r="3.6" fill="#0000ff"/>
<circle cx="1459.6" cy="405.3" r="3.6" fill="#0000ff"/>
<circle cx="1454.5" cy="401.4" r="3.6" fill="#0000ff"/>
<circle cx="1439.8" cy="400.4" r="3.6" fill="#0000ff"/>
<circle cx="1444.9" cy="398.5" r="3.6" fill="#0000ff"/>
<circle cx="1434.7" cy="395.1" r="3.6" fill="#0000ff"/>
<circle cx="1448.3" cy="383.3" r="3.6" fill="#0000ff"/>
<circle cx="1445.6" cy="372.6" r="3.6" fill="#0000ff"/>
<circle cx="1437.4" cy="368.1" r="3.6" fill="#0000ff"/>
<circle cx="1444.2" cy="358.4" r="3.6" fill="#0000ff"/>
<circle cx="1441.5" cy="345.3" r="3.6" fill="#0000ff"/>
<circle cx="1448.3" cy="345.3" r="3.6" fill="#0000ff"/>
<circle cx="1451.7" cy="337.5" r="3.6" fill="#0000ff"/>
<circle cx="1484.5" cy="333.5" r="3.6" fill="#0000ff"/>
<circle cx="1472.9" cy="331.4" r="3.6" fill="#0000ff"/>
<circle cx="1457.9" cy="327.8" r="3.6" fill="#0000ff"/>
<circle cx="1459.9" cy="322" r="3.6" fill="#0000ff"/>
<circle cx="1469.5" cy="311.5" r="3.6" fill="#0000ff"/>
<circle cx="1468.8" cy="320.4" r="3.6" fill="#0000ff"/>
<circle cx="1448.3" cy="263.5" r="3.6" fill="#0000ff"/>
<circle cx="1443.2" cy="194.5" r="3.6" fill="#0000ff"/>
<circle cx="1428.8" cy="159.3" r="3.6" fill="#0000ff"/>
<circle cx="1434.7" cy="160.3" r="3.6" fill="#0000ff"/>
<circle cx="1438.1" cy="154.5" r="3.6" fill="#0000ff"/>
<circle cx="1449" cy="136.4" r="3.6" fill="#0000ff"/>
<circle cx="1446.6" cy="135.3" r="3.6" fill="#0000ff"/>
<circle cx="1444.2" cy="143.2" r="3.6" fill="#0000ff"/>
<circle cx="1461.3" cy="150" r="3.6" fill="#0000ff"/>
<circle cx="1453.4" cy="276.4" r="3.6" fill="#0000ff"/>
<circle cx="1441.5" cy="399.1" r="3.6" fill="#0000ff"/>
<circle cx="1447.3" cy="514.2" r="3.6" fill="#0000ff"/>
<circle cx="1470.5" cy="504.3" r="3.6" fill="#0000ff"/>
<polyline points="1396.4,125.1 1416.5,133.3 1438.8,170.2 1409,333.1 1411.8,345.5 1436.4,411.4 1421,416.5 1412.4,424.4 1417.6,430.2 1406.3,418.2 1428,413.1 1423.1,295.3 1426.9,304.3 1420,298.8 1435,292.7 1410.2,287.2 1439.3,282.2 1432.5,280.6 1437.1,271.3 1444.4,262.5 1441,258.4 1443.6,254.4 1488.4,279.4 1454.7,237.2 1506.3,265.5 1450.4,239.5 1435.9,252.4 1443.6,245.3 1421.3,241.3 1435.9,233.2 1435.9,237.2 1437.6,233.5 1452.5,226.6 1437.6,226.1 1445.3,221.1 1432.5,219.3" fill="none" stroke="#ff0000" stroke-width="2.08" stroke-linejoin="round"/>
<circle cx="1396.4" cy="125.1" r="3.6" fill="#ff0000"/>
<circle cx="1416.5" cy="133.3" r="3.6" fill="#ff0000"/>
<circle cx="1438.8" cy="170.2" r="3.6" fill="#ff0000"/>
<circle cx="1409" cy="333.1" r="3.6" fill="#ff0000"/>
<circle cx="1411.8" cy="345.5" r="3.6" fill="#ff0000"/>
<circle cx="1436.4" cy="411.4" r="3.6" fill="#ff0000"/>
<circle cx="1421" cy="416.5" r="3.6" fill="#ff0000"/>
<circle cx="1412.4" cy="424.4" r="3.6" fill="#ff0000"/>
<circle cx="1417.6" cy="430.2" r="3.6" fill="#ff0000"/>
<circle cx="1406.3" cy="418.2" r="3.6" fill="#ff0000"/>
<circle cx="1428" cy="413.1" r="3.6" fill="#ff0000"/>
<circle cx="1423.1" cy="295.3" r="3.6" fill="#ff0000"/>
<circle cx="1426.9" cy="304.3" r="3.6" fill="#ff0000"/>
<circle cx="1420" cy="298.8" r="3.6" fill="#ff0000"/>
<circle cx="1435" cy="292.7" r="3.6" fill="#ff0000"/>
<circle cx="1410.2" cy="287.2" r="3.6" fill="#ff0000"/>
<circle cx="1439.3" cy="282.2" r="3.6" fill="#ff0000"/>
<circle cx="1432.5" cy="280.6" r="3.6" fill="#ff0000"/>
<circle cx="1437.1" cy="271.3" r="3.6" fill="#ff0000"/>
<circle cx="1444.4" cy="262.5" r="3.6" fill="#ff0000"/>
<circle cx="1441" cy="258.4" r="3.6" fill="#ff0000"/>
<circle cx="1443.6" cy="254.4" r="3.6" fill="#ff0000"/>
<circle cx="1488.4" cy="279.4" r="3.6" fill="#ff0000"/>
<circle cx="1454.7" cy="237.2" r="3.6" fill="#ff0000"/>
<circle cx="1506.3" cy="265.5" r="3.6" fill="#ff0000"/>
<circle cx="1450.4" cy="239.5" r="3.6" fill="#ff0000"/>
<circle cx="1435.9" cy="252.4" r="3.6" fill="#ff0000"/>
<circle cx="1443.6" cy="245.3" r="3.6" fill="#ff0000"/>
<circle cx="1421.3" cy="241.3" r="3.6" fill="#ff0000"/>
<circle cx="1435.9" cy="233.2" r="3.6" fill="#ff0000"/>
<circle cx="1435.9" cy="237.2" r="3.6" fill="#ff0000"/>
<circle cx="1437.6" cy="233.5" r="3.6" fill="#ff0000"/>
<circle cx="1452.5" cy="226.6" r="3.6" fill="#ff0000"/>
<circle cx="1437.6" cy="226.1" r="3.6" fill="#ff0000"/>
<circle cx="1445.3" cy="221.1" r="3.6" fill="#ff0000"/>
<circle cx="1432.5" cy="219.3" r="3.6" fill="#ff0000"/>
</g>
<rect x="1229" y="84" width="454" height="453.5" fill="none" stroke="#000" stroke-width="2.08"/>
<line x1="1289.53" y1="537.5" x2="1289.53" y2="529.2" stroke="#000" stroke-width="1.05"/>
<line x1="1289.53" y1="84" x2="1289.53" y2="92.3" stroke="#000" stroke-width="1.05"/>
<line x1="1365.2" y1="537.5" x2="1365.2" y2="529.2" stroke="#000" stroke-width="1.05"/>
<line x1="1365.2" y1="84" x2="1365.2" y2="92.3" stroke="#000" stroke-width="1.05"/>
<line x1="1440.87" y1="537.5" x2="1440.87" y2="529.2" stroke="#000" stroke-width="1.05"/>
<line x1="1440.87" y1="84" x2="1440.87" y2="92.3" stroke="#000" stroke-width="1.05"/>
<line x1="1516.53" y1="537.5" x2="1516.53" y2="529.2" stroke="#000" stroke-width="1.05"/>
<line x1="1516.53" y1="84" x2="1516.53" y2="92.3" stroke="#000" stroke-width="1.05"/>
<line x1="1592.2" y1="537.5" x2="1592.2" y2="529.2" stroke="#000" stroke-width="1.05"/>
<line x1="1592.2" y1="84" x2="1592.2" y2="92.3" stroke="#000" stroke-width="1.05"/>
<line x1="1667.87" y1="537.5" x2="1667.87" y2="529.2" stroke="#000" stroke-width="1.05"/>
<line x1="1667.87" y1="84" x2="1667.87" y2="92.3" stroke="#000" stroke-width="1.05"/>
<line x1="1229" y1="461.92" x2="1237.3" y2="461.92" stroke="#000" stroke-width="1.05"/>
<line x1="1683" y1="461.92" x2="1674.7" y2="461.92" stroke="#000" stroke-width="1.05"/>
<line x1="1229" y1="386.33" x2="1237.3" y2="386.33" stroke="#000" stroke-width="1.05"/>
<line x1="1683" y1="386.33" x2="1674.7" y2="386.33" stroke="#000" stroke-width="1.05"/>
<line x1="1229" y1="310.75" x2="1237.3" y2="310.75" stroke="#000" stroke-width="1.05"/>
<line x1="1683" y1="310.75" x2="1674.7" y2="310.75" stroke="#000" stroke-width="1.05"/>
<line x1="1229" y1="235.17" x2="1237.3" y2="235.17" stroke="#000" stroke-width="1.05"/>
<line x1="1683" y1="235.17" x2="1674.7" y2="235.17" stroke="#000" stroke-width="1.05"/>
<line x1="1229" y1="159.58" x2="1237.3" y2="159.58" stroke="#000" stroke-width="1.05"/>
<line x1="1683" y1="159.58" x2="1674.7" y2="159.58" stroke="#000" stroke-width="1.05"/>
<text x="1267.1" y="560.5" font-size="17.5" textLength="44.67" lengthAdjust="spacingAndGlyphs">−100</text>
<text x="1348.06" y="560.5" font-size="17.5" textLength="34.08" lengthAdjust="spacingAndGlyphs">−50</text>
<text x="1435.98" y="560.5" font-size="17.5" textLength="9.77" lengthAdjust="spacingAndGlyphs">0</text>
<text x="1506.39" y="560.5" font-size="17.5" textLength="20.26" lengthAdjust="spacingAndGlyphs">50</text>
<text x="1576.34" y="560.5" font-size="17.5" textLength="31.02" lengthAdjust="spacingAndGlyphs">100</text>
<text x="1652.01" y="560.5" font-size="17.5" textLength="31.02" lengthAdjust="spacingAndGlyphs">150</text>
<text x="1175.11" y="542.2" font-size="17.5" textLength="44.67" lengthAdjust="spacingAndGlyphs">−150</text>
<text x="1175.11" y="466.62" font-size="17.5" textLength="44.67" lengthAdjust="spacingAndGlyphs">−100</text>
<text x="1185.7" y="391.03" font-size="17.5" textLength="34.08" lengthAdjust="spacingAndGlyphs">−50</text>
<text x="1209.91" y="315.45" font-size="17.5" textLength="9.77" lengthAdjust="spacingAndGlyphs">0</text>
<text x="1199.45" y="239.87" font-size="17.5" textLength="20.26" lengthAdjust="spacingAndGlyphs">50</text>
<text x="1188.7" y="164.28" font-size="17.5" textLength="31.02" lengthAdjust="spacingAndGlyphs">100</text>
<text x="1188.7" y="88.7" font-size="17.5" textLength="31.02" lengthAdjust="spacingAndGlyphs">150</text>
<text x="1275.94" y="74" font-size="24.57" textLength="358.72" lengthAdjust="spacingAndGlyphs">Hodogram(V3_V1 MVAB frame)</text>
<text x="1419.09" y="590.8" font-size="17.5" textLength="74.89" lengthAdjust="spacingAndGlyphs">V3(km/s)</text>
<text transform="translate(1159.8 313.05) rotate(-90)" x="-36.91" y="0" font-size="17.5" textLength="74.89" lengthAdjust="spacingAndGlyphs">V1(km/s)</text>
<rect x="1562.8" y="90.8" width="113.1" height="59.9" fill="#fff" stroke="#000" stroke-width="2.08"/>
<line x1="1573.4" y1="107.3" x2="1593.5" y2="107.3" stroke="#0000ff" stroke-width="2.08"/>
<circle cx="1573.4" cy="107.3" r="3.6" fill="#0000ff"/>
<circle cx="1593.5" cy="107.3" r="3.6" fill="#0000ff"/>
<line x1="1573.4" y1="133.5" x2="1593.5" y2="133.5" stroke="#ff0000" stroke-width="2.08"/>
<circle cx="1573.4" cy="133.5" r="3.6" fill="#ff0000"/>
<circle cx="1593.5" cy="133.5" r="3.6" fill="#ff0000"/>
<text x="1609.28" y="110.8" font-size="16.2" textLength="15.22" lengthAdjust="spacingAndGlyphs">B/</text>
<path d="M1625 107.6 L1626.6 106.6 L1629.4 113.6 L1635.4 99.3 L1663.9 99.3" fill="none" stroke="#000" stroke-width="0.9" stroke-linejoin="miter"/>
<text x="1638.31" y="110.8" font-size="14.5" font-family='"Liberation Serif", serif' font-style="italic" style="stroke:none" textLength="6.2" lengthAdjust="spacingAndGlyphs">μ</text>
<text x="1646.71" y="113.3" font-size="10.5" font-family='"Liberation Serif", serif' style="stroke:none" textLength="5.07" lengthAdjust="spacingAndGlyphs">0</text>
<text x="1653.49" y="110.8" font-size="14.5" font-family='"Liberation Serif", serif' font-style="italic" style="stroke:none" textLength="7.38" lengthAdjust="spacingAndGlyphs">ρ</text>
<text x="1610.54" y="137.7" font-size="16.2" textLength="9.42" lengthAdjust="spacingAndGlyphs">V</text>
<text x="1619.82" y="140" font-size="11" font-family='"Liberation Serif", serif' font-style="italic" style="stroke:none" textLength="48.42" lengthAdjust="spacingAndGlyphs">remaining</text>
<text x="1262.51" y="516.1" font-size="19" font-family='"Liberation Serif", serif' font-style="italic" style="stroke:none" textLength="9.01" lengthAdjust="spacingAndGlyphs">λ</text>
<text x="1270.5" y="519" font-size="13.5" font-family='"Liberation Serif", serif' style="stroke:none" textLength="6.25" lengthAdjust="spacingAndGlyphs">1</text>
<text x="1280" y="520.5" font-size="24" font-family='"Liberation Serif", serif' style="stroke:none" textLength="7.4" lengthAdjust="spacingAndGlyphs">/</text>
<text x="1290.89" y="516.1" font-size="19" font-family='"Liberation Serif", serif' font-style="italic" style="stroke:none" textLength="8.61" lengthAdjust="spacingAndGlyphs">λ</text>
<text x="1298.77" y="519" font-size="13.5" font-family='"Liberation Serif", serif' style="stroke:none" textLength="6.54" lengthAdjust="spacingAndGlyphs">3</text>
<text x="1311.06" y="514.3" font-size="19" font-family='"Liberation Serif", serif' style="stroke:none" textLength="14.62" lengthAdjust="spacingAndGlyphs">≈</text>
<text x="1332.52" y="516.1" font-size="19.69" textLength="53.2" lengthAdjust="spacingAndGlyphs">64.36</text>
<clipPath id="cD"><rect x="117" y="662" width="454" height="453.5"/></clipPath>
<g clip-path="url(#cD)">
<circle cx="122.4" cy="752.1" r="5.5" fill="#ff0000"/>
<circle cx="128.5" cy="757.8" r="5.5" fill="#ff0000"/>
<circle cx="135.6" cy="759.2" r="5.5" fill="#ff0000"/>
<circle cx="165.5" cy="758.5" r="5.5" fill="#ff0000"/>
<circle cx="120.7" cy="764.2" r="5.5" fill="#ff0000"/>
<circle cx="122.8" cy="767" r="5.5" fill="#ff0000"/>
<circle cx="119.3" cy="772.7" r="5.5" fill="#ff0000"/>
<circle cx="130.7" cy="771.3" r="5.5" fill="#ff0000"/>
<circle cx="133.5" cy="772.7" r="5.5" fill="#ff0000"/>
<circle cx="139.2" cy="775.6" r="5.5" fill="#ff0000"/>
<circle cx="144.2" cy="777.7" r="5.5" fill="#ff0000"/>
<circle cx="129.2" cy="784.1" r="5.5" fill="#ff0000"/>
<circle cx="132.1" cy="786.2" r="5.5" fill="#ff0000"/>
<circle cx="137.8" cy="782.7" r="5.5" fill="#ff0000"/>
<circle cx="141.3" cy="786.9" r="5.5" fill="#ff0000"/>
<circle cx="141.3" cy="796.9" r="5.5" fill="#ff0000"/>
<circle cx="159.1" cy="792.6" r="5.5" fill="#ff0000"/>
<circle cx="152" cy="799.8" r="5.5" fill="#ff0000"/>
<circle cx="159.1" cy="801.9" r="5.5" fill="#ff0000"/>
<circle cx="169.1" cy="813.3" r="5.5" fill="#ff0000"/>
<circle cx="182.6" cy="821.8" r="5.5" fill="#ff0000"/>
<circle cx="181.9" cy="826.8" r="5.5" fill="#ff0000"/>
<circle cx="193.3" cy="835.3" r="5.5" fill="#ff0000"/>
<circle cx="206.1" cy="847.4" r="5.5" fill="#ff0000"/>
<circle cx="209.7" cy="849.6" r="5.5" fill="#ff0000"/>
<circle cx="215.4" cy="846" r="5.5" fill="#ff0000"/>
<circle cx="220.3" cy="853.8" r="5.5" fill="#ff0000"/>
<circle cx="224.6" cy="856" r="5.5" fill="#ff0000"/>
<circle cx="255.7" cy="892.5" r="5.5" fill="#ff0000"/>
<circle cx="261.4" cy="905.6" r="5.5" fill="#ff0000"/>
<circle cx="339.4" cy="971.3" r="5.5" fill="#ff0000"/>
<circle cx="371.2" cy="972.5" r="5.5" fill="#ff0000"/>
<circle cx="376.4" cy="984.3" r="5.5" fill="#ff0000"/>
<circle cx="385.2" cy="983.6" r="5.5" fill="#ff0000"/>
<circle cx="407.3" cy="994.5" r="5.5" fill="#ff0000"/>
<circle cx="404.4" cy="1003.5" r="5.5" fill="#ff0000"/>
<circle cx="413.7" cy="1005.2" r="5.5" fill="#ff0000"/>
<circle cx="117.5" cy="778" r="5.5" fill="#ff0000"/>
<circle cx="125" cy="776" r="5.5" fill="#ff0000"/>
<circle cx="158.4" cy="758.5" r="5.5" fill="#008000"/>
<circle cx="171.5" cy="783.4" r="5.5" fill="#008000"/>
<circle cx="280.6" cy="874.9" r="5.5" fill="#008000"/>
<circle cx="272" cy="880.6" r="5.5" fill="#008000"/>
<circle cx="262.8" cy="885.6" r="5.5" fill="#008000"/>
<circle cx="260.6" cy="890.6" r="5.5" fill="#008000"/>
<circle cx="267.8" cy="888.5" r="5.5" fill="#008000"/>
<circle cx="274.2" cy="890.6" r="5.5" fill="#008000"/>
<circle cx="268.5" cy="895.6" r="5.5" fill="#008000"/>
<circle cx="275.6" cy="897" r="5.5" fill="#008000"/>
<circle cx="282.7" cy="895.6" r="5.5" fill="#008000"/>
<circle cx="274.2" cy="904.1" r="5.5" fill="#008000"/>
<circle cx="289.8" cy="899.9" r="5.5" fill="#008000"/>
<circle cx="293.4" cy="902" r="5.5" fill="#008000"/>
<circle cx="290.5" cy="911.2" r="5.5" fill="#008000"/>
<circle cx="301.2" cy="909.8" r="5.5" fill="#008000"/>
<circle cx="305.5" cy="919.1" r="5.5" fill="#008000"/>
<circle cx="311.9" cy="916.2" r="5.5" fill="#008000"/>
<circle cx="320.4" cy="914.1" r="5.5" fill="#008000"/>
<circle cx="323.3" cy="923.3" r="5.5" fill="#008000"/>
<circle cx="313.3" cy="926.2" r="5.5" fill="#008000"/>
<circle cx="318.3" cy="928.3" r="5.5" fill="#008000"/>
<circle cx="356.4" cy="927.3" r="5.5" fill="#008000"/>
<circle cx="370.5" cy="937.3" r="5.5" fill="#008000"/>
<circle cx="292.7" cy="974.3" r="5.5" fill="#008000"/>
<circle cx="278.4" cy="983.4" r="5.5" fill="#008000"/>
<circle cx="423.3" cy="975.3" r="5.5" fill="#008000"/>
<circle cx="417.2" cy="1000.2" r="5.5" fill="#008000"/>
<circle cx="444.3" cy="982.8" r="5.5" fill="#008000"/>
<circle cx="445.5" cy="990.6" r="5.5" fill="#008000"/>
<circle cx="444.1" cy="993.5" r="5.5" fill="#008000"/>
<circle cx="452.3" cy="999.1" r="5.5" fill="#008000"/>
<circle cx="276.3" cy="836" r="5.5" fill="#008000"/>
<circle cx="250.4" cy="908.4" r="5.5" fill="#0000ff"/>
<circle cx="284.4" cy="906.3" r="5.5" fill="#0000ff"/>
<circle cx="435.3" cy="950.4" r="5.5" fill="#0000ff"/>
<circle cx="478.2" cy="1057.5" r="5.5" fill="#0000ff"/>
<circle cx="481.8" cy="1054" r="5.5" fill="#0000ff"/>
<circle cx="488.2" cy="1059.6" r="5.5" fill="#0000ff"/>
<circle cx="493.9" cy="1061.8" r="5.5" fill="#0000ff"/>
<circle cx="499.6" cy="1059.6" r="5.5" fill="#0000ff"/>
<circle cx="505.3" cy="1059.6" r="5.5" fill="#0000ff"/>
<circle cx="498.1" cy="1065.3" r="5.5" fill="#0000ff"/>
<circle cx="502.4" cy="1068.2" r="5.5" fill="#0000ff"/>
<circle cx="508.1" cy="1068.2" r="5.5" fill="#0000ff"/>
<circle cx="500.3" cy="1073.9" r="5.5" fill="#0000ff"/>
<circle cx="509.5" cy="1075.3" r="5.5" fill="#0000ff"/>
<circle cx="515.2" cy="1079.6" r="5.5" fill="#0000ff"/>
<circle cx="522.3" cy="1081" r="5.5" fill="#0000ff"/>
<circle cx="526.6" cy="1075.3" r="5.5" fill="#0000ff"/>
<circle cx="532.3" cy="1065.3" r="5.5" fill="#0000ff"/>
<circle cx="543.7" cy="1068.9" r="5.5" fill="#0000ff"/>
<circle cx="557.2" cy="1068.9" r="5.5" fill="#0000ff"/>
<circle cx="495.3" cy="1081" r="5.5" fill="#0000ff"/>
<circle cx="495.3" cy="1086" r="5.5" fill="#0000ff"/>
<circle cx="536.6" cy="1081" r="5.5" fill="#0000ff"/>
<circle cx="539.4" cy="1089.5" r="5.5" fill="#0000ff"/>
<circle cx="546.5" cy="1083.8" r="5.5" fill="#0000ff"/>
<circle cx="550.8" cy="1088.1" r="5.5" fill="#0000ff"/>
<circle cx="556.5" cy="1086.7" r="5.5" fill="#0000ff"/>
<circle cx="560.8" cy="1088.1" r="5.5" fill="#0000ff"/>
<circle cx="555.1" cy="1095.2" r="5.5" fill="#0000ff"/>
<circle cx="558.6" cy="1101.6" r="5.5" fill="#0000ff"/>
<circle cx="563.6" cy="1092.4" r="5.5" fill="#0000ff"/>
<circle cx="569.3" cy="1095.2" r="5.5" fill="#0000ff"/>
<circle cx="567.9" cy="1101" r="5.5" fill="#0000ff"/>
<circle cx="572" cy="1090" r="5.5" fill="#0000ff"/>
<line x1="116.53" y1="770.79" x2="568.38" y2="1109.22" stroke="#000" stroke-width="2.08" stroke-dasharray="12.5 12.5"/>
</g>
<rect x="117" y="662" width="454" height="453.5" fill="none" stroke="#000" stroke-width="2.08"/>
<line x1="130.55" y1="1115.5" x2="130.55" y2="1107.2" stroke="#000" stroke-width="1.05"/>
<line x1="130.55" y1="662" x2="130.55" y2="670.3" stroke="#000" stroke-width="1.05"/>
<line x1="221.58" y1="1115.5" x2="221.58" y2="1107.2" stroke="#000" stroke-width="1.05"/>
<line x1="221.58" y1="662" x2="221.58" y2="670.3" stroke="#000" stroke-width="1.05"/>
<line x1="312.6" y1="1115.5" x2="312.6" y2="1107.2" stroke="#000" stroke-width="1.05"/>
<line x1="312.6" y1="662" x2="312.6" y2="670.3" stroke="#000" stroke-width="1.05"/>
<line x1="403.62" y1="1115.5" x2="403.62" y2="1107.2" stroke="#000" stroke-width="1.05"/>
<line x1="403.62" y1="662" x2="403.62" y2="670.3" stroke="#000" stroke-width="1.05"/>
<line x1="494.65" y1="1115.5" x2="494.65" y2="1107.2" stroke="#000" stroke-width="1.05"/>
<line x1="494.65" y1="662" x2="494.65" y2="670.3" stroke="#000" stroke-width="1.05"/>
<line x1="117" y1="1103.15" x2="125.3" y2="1103.15" stroke="#000" stroke-width="1.05"/>
<line x1="571" y1="1103.15" x2="562.7" y2="1103.15" stroke="#000" stroke-width="1.05"/>
<line x1="117" y1="1012.12" x2="125.3" y2="1012.12" stroke="#000" stroke-width="1.05"/>
<line x1="571" y1="1012.12" x2="562.7" y2="1012.12" stroke="#000" stroke-width="1.05"/>
<line x1="117" y1="921.1" x2="125.3" y2="921.1" stroke="#000" stroke-width="1.05"/>
<line x1="571" y1="921.1" x2="562.7" y2="921.1" stroke="#000" stroke-width="1.05"/>
<line x1="117" y1="830.08" x2="125.3" y2="830.08" stroke="#000" stroke-width="1.05"/>
<line x1="571" y1="830.08" x2="562.7" y2="830.08" stroke="#000" stroke-width="1.05"/>
<line x1="117" y1="739.05" x2="125.3" y2="739.05" stroke="#000" stroke-width="1.05"/>
<line x1="571" y1="739.05" x2="562.7" y2="739.05" stroke="#000" stroke-width="1.05"/>
<text x="108.12" y="1138.5" font-size="17.5" textLength="44.67" lengthAdjust="spacingAndGlyphs">−100</text>
<text x="204.43" y="1138.5" font-size="17.5" textLength="34.08" lengthAdjust="spacingAndGlyphs">−50</text>
<text x="307.71" y="1138.5" font-size="17.5" textLength="9.77" lengthAdjust="spacingAndGlyphs">0</text>
<text x="393.49" y="1138.5" font-size="17.5" textLength="20.26" lengthAdjust="spacingAndGlyphs">50</text>
<text x="478.79" y="1138.5" font-size="17.5" textLength="31.02" lengthAdjust="spacingAndGlyphs">100</text>
<text x="63.11" y="1107.85" font-size="17.5" textLength="44.67" lengthAdjust="spacingAndGlyphs">−100</text>
<text x="73.7" y="1016.83" font-size="17.5" textLength="34.08" lengthAdjust="spacingAndGlyphs">−50</text>
<text x="97.91" y="925.8" font-size="17.5" textLength="9.77" lengthAdjust="spacingAndGlyphs">0</text>
<text x="87.45" y="834.78" font-size="17.5" textLength="20.26" lengthAdjust="spacingAndGlyphs">50</text>
<text x="76.7" y="743.75" font-size="17.5" textLength="31.02" lengthAdjust="spacingAndGlyphs">100</text>
<text x="284.79" y="650.6" font-size="24.57" textLength="118.59" lengthAdjust="spacingAndGlyphs">WalenTest</text>
<text x="307.03" y="1167.8" font-size="17.5" textLength="11.15" lengthAdjust="spacingAndGlyphs">V</text>
<text x="320.51" y="1169.9" font-size="11.5" font-family='"Liberation Serif", serif' font-style="italic" style="stroke:none" textLength="6.85" lengthAdjust="spacingAndGlyphs">A</text>
<text x="327.9" y="1167.8" font-size="17.5" textLength="53.7" lengthAdjust="spacingAndGlyphs">(km/s)</text>
<text transform="translate(45 950.2) rotate(-90)" x="-0.07" y="0" font-size="17.5" textLength="11.05" lengthAdjust="spacingAndGlyphs">V</text>
<text transform="translate(46.6 936.8) rotate(-90)" x="-0.54" y="0" font-size="11.5" font-family='"Liberation Serif", serif' font-style="italic" style="stroke:none" textLength="54.73" lengthAdjust="spacingAndGlyphs">remaining</text>
<text transform="translate(45 881.4) rotate(-90)" x="-1.18" y="0" font-size="17.5" textLength="52.65" lengthAdjust="spacingAndGlyphs">(km/s)</text>
<rect x="125.3" y="669.2" width="144.3" height="71.2" fill="#fff" stroke="#000" stroke-width="2.08"/>
<text x="128.1" y="686.4" font-size="19.69" textLength="137.32" lengthAdjust="spacingAndGlyphs">slope = -0.749</text>
<text x="128.44" y="708.4" font-size="18.5" font-family='"Liberation Serif", serif' font-style="italic" style="stroke:none" textLength="8.3" lengthAdjust="spacingAndGlyphs">r</text>
<text x="143.52" y="708.4" font-size="19.69" textLength="81.42" lengthAdjust="spacingAndGlyphs">= -0.989</text>
<text x="130.04" y="730.4" font-size="18.5" font-family='"Liberation Serif", serif' font-style="italic" style="stroke:none" textLength="17.3" lengthAdjust="spacingAndGlyphs">M</text>
<text x="149.49" y="733.6" font-size="13" font-family='"Liberation Serif", serif' font-style="italic" style="stroke:none" textLength="6.57" lengthAdjust="spacingAndGlyphs">A</text>
<text x="164.73" y="730.4" font-size="19.69" textLength="73.38" lengthAdjust="spacingAndGlyphs">= 0.755</text>
<clipPath id="cE"><rect x="673" y="662" width="454" height="453.5"/></clipPath>
<line x1="736.56" y1="1115.5" x2="736.56" y2="662" stroke="#000" stroke-width="1" stroke-dasharray="2.08 6.25"/>
<line x1="827.36" y1="1115.5" x2="827.36" y2="662" stroke="#000" stroke-width="1" stroke-dasharray="2.08 6.25"/>
<line x1="918.16" y1="1115.5" x2="918.16" y2="662" stroke="#000" stroke-width="1" stroke-dasharray="2.08 6.25"/>
<line x1="1008.96" y1="1115.5" x2="1008.96" y2="662" stroke="#000" stroke-width="1" stroke-dasharray="2.08 6.25"/>
<line x1="1099.76" y1="1115.5" x2="1099.76" y2="662" stroke="#000" stroke-width="1" stroke-dasharray="2.08 6.25"/>
<line x1="673" y1="1024.8" x2="1127" y2="1024.8" stroke="#000" stroke-width="1" stroke-dasharray="2.08 6.25" stroke-dashoffset="-0.6"/>
<line x1="673" y1="934.1" x2="1127" y2="934.1" stroke="#000" stroke-width="1" stroke-dasharray="2.08 6.25" stroke-dashoffset="-0.6"/>
<line x1="673" y1="843.4" x2="1127" y2="843.4" stroke="#000" stroke-width="1" stroke-dasharray="2.08 6.25" stroke-dashoffset="-0.6"/>
<line x1="673" y1="752.7" x2="1127" y2="752.7" stroke="#000" stroke-width="1" stroke-dasharray="2.08 6.25" stroke-dashoffset="-0.6"/>
<g clip-path="url(#cE)">
<polyline points="854.7,964.4 846.9,963.7 840.5,959.4 844.8,956.6 851.9,957.3 851.2,950.9 848.3,953.7 844.1,949.5 839.8,953.7 785.4,920.6 834.8,945.2 842.6,945.2 849.8,949.5 848.3,943.8 845.5,942.3 846.9,946.6 846.9,936.7 841.2,936.7 838.4,935.2 836.9,942.3 797.1,901.4 834.1,923.1 835.9,925.3 842.3,926 836.9,919.6 835.5,915.3 836.2,903.5 839.8,891.8 836.9,891.1 836.2,879.3 852.6,881.4 849.8,874 846.9,874 844.1,870.5 842.6,862.6 842.3,860.5 846.9,869.8 856.9,812.5 880.4,732.9 882.8,724.4 888.2,722.3 897.4,706.9 900.2,712.4 902,714 888.9,725.7 851.2,827.5 952.4,1017.1 1005.7,1056.4 1021.1,1063.3" fill="none" stroke="#0000ff" stroke-width="2.08" stroke-linejoin="round"/>
<circle cx="854.7" cy="964.4" r="3.6" fill="#0000ff"/>
<circle cx="846.9" cy="963.7" r="3.6" fill="#0000ff"/>
<circle cx="840.5" cy="959.4" r="3.6" fill="#0000ff"/>
<circle cx="844.8" cy="956.6" r="3.6" fill="#0000ff"/>
<circle cx="851.9" cy="957.3" r="3.6" fill="#0000ff"/>
<circle cx="851.2" cy="950.9" r="3.6" fill="#0000ff"/>
<circle cx="848.3" cy="953.7" r="3.6" fill="#0000ff"/>
<circle cx="844.1" cy="949.5" r="3.6" fill="#0000ff"/>
<circle cx="839.8" cy="953.7" r="3.6" fill="#0000ff"/>
<circle cx="785.4" cy="920.6" r="3.6" fill="#0000ff"/>
<circle cx="834.8" cy="945.2" r="3.6" fill="#0000ff"/>
<circle cx="842.6" cy="945.2" r="3.6" fill="#0000ff"/>
<circle cx="849.8" cy="949.5" r="3.6" fill="#0000ff"/>
<circle cx="848.3" cy="943.8" r="3.6" fill="#0000ff"/>
<circle cx="845.5" cy="942.3" r="3.6" fill="#0000ff"/>
<circle cx="846.9" cy="946.6" r="3.6" fill="#0000ff"/>
<circle cx="846.9" cy="936.7" r="3.6" fill="#0000ff"/>
<circle cx="841.2" cy="936.7" r="3.6" fill="#0000ff"/>
<circle cx="838.4" cy="935.2" r="3.6" fill="#0000ff"/>
<circle cx="836.9" cy="942.3" r="3.6" fill="#0000ff"/>
<circle cx="797.1" cy="901.4" r="3.6" fill="#0000ff"/>
<circle cx="834.1" cy="923.1" r="3.6" fill="#0000ff"/>
<circle cx="835.9" cy="925.3" r="3.6" fill="#0000ff"/>
<circle cx="842.3" cy="926" r="3.6" fill="#0000ff"/>
<circle cx="836.9" cy="919.6" r="3.6" fill="#0000ff"/>
<circle cx="835.5" cy="915.3" r="3.6" fill="#0000ff"/>
<circle cx="836.2" cy="903.5" r="3.6" fill="#0000ff"/>
<circle cx="839.8" cy="891.8" r="3.6" fill="#0000ff"/>
<circle cx="836.9" cy="891.1" r="3.6" fill="#0000ff"/>
<circle cx="836.2" cy="879.3" r="3.6" fill="#0000ff"/>
<circle cx="852.6" cy="881.4" r="3.6" fill="#0000ff"/>
<circle cx="849.8" cy="874" r="3.6" fill="#0000ff"/>
<circle cx="846.9" cy="874" r="3.6" fill="#0000ff"/>
<circle cx="844.1" cy="870.5" r="3.6" fill="#0000ff"/>
<circle cx="842.6" cy="862.6" r="3.6" fill="#0000ff"/>
<circle cx="842.3" cy="860.5" r="3.6" fill="#0000ff"/>
<circle cx="846.9" cy="869.8" r="3.6" fill="#0000ff"/>
<circle cx="856.9" cy="812.5" r="3.6" fill="#0000ff"/>
<circle cx="880.4" cy="732.9" r="3.6" fill="#0000ff"/>
<circle cx="882.8" cy="724.4" r="3.6" fill="#0000ff"/>
<circle cx="888.2" cy="722.3" r="3.6" fill="#0000ff"/>
<circle cx="897.4" cy="706.9" r="3.6" fill="#0000ff"/>
<circle cx="900.2" cy="712.4" r="3.6" fill="#0000ff"/>
<circle cx="902" cy="714" r="3.6" fill="#0000ff"/>
<circle cx="888.9" cy="725.7" r="3.6" fill="#0000ff"/>
<circle cx="851.2" cy="827.5" r="3.6" fill="#0000ff"/>
<circle cx="952.4" cy="1017.1" r="3.6" fill="#0000ff"/>
<circle cx="1005.7" cy="1056.4" r="3.6" fill="#0000ff"/>
<circle cx="1021.1" cy="1063.3" r="3.6" fill="#0000ff"/>
</g>
<rect x="673" y="662" width="454" height="453.5" fill="none" stroke="#000" stroke-width="2.08"/>
<line x1="736.56" y1="1115.5" x2="736.56" y2="1107.2" stroke="#000" stroke-width="1.05"/>
<line x1="736.56" y1="662" x2="736.56" y2="670.3" stroke="#000" stroke-width="1.05"/>
<line x1="827.36" y1="1115.5" x2="827.36" y2="1107.2" stroke="#000" stroke-width="1.05"/>
<line x1="827.36" y1="662" x2="827.36" y2="670.3" stroke="#000" stroke-width="1.05"/>
<line x1="918.16" y1="1115.5" x2="918.16" y2="1107.2" stroke="#000" stroke-width="1.05"/>
<line x1="918.16" y1="662" x2="918.16" y2="670.3" stroke="#000" stroke-width="1.05"/>
<line x1="1008.96" y1="1115.5" x2="1008.96" y2="1107.2" stroke="#000" stroke-width="1.05"/>
<line x1="1008.96" y1="662" x2="1008.96" y2="670.3" stroke="#000" stroke-width="1.05"/>
<line x1="1099.76" y1="1115.5" x2="1099.76" y2="1107.2" stroke="#000" stroke-width="1.05"/>
<line x1="1099.76" y1="662" x2="1099.76" y2="670.3" stroke="#000" stroke-width="1.05"/>
<line x1="673" y1="1024.8" x2="681.3" y2="1024.8" stroke="#000" stroke-width="1.05"/>
<line x1="1127" y1="1024.8" x2="1118.7" y2="1024.8" stroke="#000" stroke-width="1.05"/>
<line x1="673" y1="934.1" x2="681.3" y2="934.1" stroke="#000" stroke-width="1.05"/>
<line x1="1127" y1="934.1" x2="1118.7" y2="934.1" stroke="#000" stroke-width="1.05"/>
<line x1="673" y1="843.4" x2="681.3" y2="843.4" stroke="#000" stroke-width="1.05"/>
<line x1="1127" y1="843.4" x2="1118.7" y2="843.4" stroke="#000" stroke-width="1.05"/>
<line x1="673" y1="752.7" x2="681.3" y2="752.7" stroke="#000" stroke-width="1.05"/>
<line x1="1127" y1="752.7" x2="1118.7" y2="752.7" stroke="#000" stroke-width="1.05"/>
<text x="714.13" y="1138.5" font-size="17.5" textLength="44.67" lengthAdjust="spacingAndGlyphs">−150</text>
<text x="804.93" y="1138.5" font-size="17.5" textLength="44.67" lengthAdjust="spacingAndGlyphs">−100</text>
<text x="901.02" y="1138.5" font-size="17.5" textLength="34.08" lengthAdjust="spacingAndGlyphs">−50</text>
<text x="1004.07" y="1138.5" font-size="17.5" textLength="9.77" lengthAdjust="spacingAndGlyphs">0</text>
<text x="1089.62" y="1138.5" font-size="17.5" textLength="20.26" lengthAdjust="spacingAndGlyphs">50</text>
<text x="619.11" y="1120.2" font-size="17.5" textLength="44.67" lengthAdjust="spacingAndGlyphs">−150</text>
<text x="619.11" y="1029.5" font-size="17.5" textLength="44.67" lengthAdjust="spacingAndGlyphs">−100</text>
<text x="629.7" y="938.8" font-size="17.5" textLength="34.08" lengthAdjust="spacingAndGlyphs">−50</text>
<text x="653.91" y="848.1" font-size="17.5" textLength="9.77" lengthAdjust="spacingAndGlyphs">0</text>
<text x="643.45" y="757.4" font-size="17.5" textLength="20.26" lengthAdjust="spacingAndGlyphs">50</text>
<text x="632.7" y="666.7" font-size="17.5" textLength="31.02" lengthAdjust="spacingAndGlyphs">100</text>
<text x="863.09" y="1168.8" font-size="17.5" textLength="74.89" lengthAdjust="spacingAndGlyphs">V2(km/s)</text>
<text transform="translate(603.8 891.05) rotate(-90)" x="-36.91" y="0" font-size="17.5" textLength="74.89" lengthAdjust="spacingAndGlyphs">V1(km/s)</text>
<text x="686.51" y="1093.9" font-size="19" font-family='"Liberation Serif", serif' font-style="italic" style="stroke:none" textLength="9.01" lengthAdjust="spacingAndGlyphs">λ</text>
<text x="694.5" y="1096.8" font-size="13.5" font-family='"Liberation Serif", serif' style="stroke:none" textLength="6.25" lengthAdjust="spacingAndGlyphs">1</text>
<text x="704" y="1098.3" font-size="24" font-family='"Liberation Serif", serif' style="stroke:none" textLength="7.4" lengthAdjust="spacingAndGlyphs">/</text>
<text x="714.89" y="1093.9" font-size="19" font-family='"Liberation Serif", serif' font-style="italic" style="stroke:none" textLength="8.61" lengthAdjust="spacingAndGlyphs">λ</text>
<text x="722.81" y="1096.8" font-size="13.5" font-family='"Liberation Serif", serif' style="stroke:none" textLength="6.74" lengthAdjust="spacingAndGlyphs">2</text>
<text x="735.06" y="1092.1" font-size="19" font-family='"Liberation Serif", serif' style="stroke:none" textLength="14.62" lengthAdjust="spacingAndGlyphs">≈</text>
<text x="757.12" y="1093.9" font-size="19.69" textLength="29" lengthAdjust="spacingAndGlyphs">4.8</text>
<clipPath id="cF"><rect x="1229" y="662" width="454" height="453.5"/></clipPath>
<line x1="1319.8" y1="1115.5" x2="1319.8" y2="662" stroke="#000" stroke-width="1" stroke-dasharray="2.08 6.25"/>
<line x1="1410.6" y1="1115.5" x2="1410.6" y2="662" stroke="#000" stroke-width="1" stroke-dasharray="2.08 6.25"/>
<line x1="1501.4" y1="1115.5" x2="1501.4" y2="662" stroke="#000" stroke-width="1" stroke-dasharray="2.08 6.25"/>
<line x1="1592.2" y1="1115.5" x2="1592.2" y2="662" stroke="#000" stroke-width="1" stroke-dasharray="2.08 6.25"/>
<line x1="1229" y1="1024.8" x2="1683" y2="1024.8" stroke="#000" stroke-width="1" stroke-dasharray="2.08 6.25" stroke-dashoffset="-0.6"/>
<line x1="1229" y1="934.1" x2="1683" y2="934.1" stroke="#000" stroke-width="1" stroke-dasharray="2.08 6.25" stroke-dashoffset="-0.6"/>
<line x1="1229" y1="843.4" x2="1683" y2="843.4" stroke="#000" stroke-width="1" stroke-dasharray="2.08 6.25" stroke-dashoffset="-0.6"/>
<line x1="1229" y1="752.7" x2="1683" y2="752.7" stroke="#000" stroke-width="1" stroke-dasharray="2.08 6.25" stroke-dashoffset="-0.6"/>
<g clip-path="url(#cF)">
<polyline points="1427.5,964.2 1442.3,963.3 1448.3,956.3 1433.5,958.2 1431.2,948.5 1436.5,951 1441,946.5 1447.4,951.7 1502.4,920.3 1444.6,944.3 1445.5,949.9 1485.3,901.3 1440,924 1439,942.5 1414.1,936.4 1432.1,925.8 1439.5,925.3 1437.2,919.3 1440.4,915.2 1433,903.1 1436.3,892 1428.9,891.6 1432.6,879.1 1426.5,860.1 1419.6,874 1411.3,874 1406.2,881.4 1421.5,868.5 1409.4,827.3 1427.1,721.3 1439.1,712.4 1444.2,706.9 1449.3,713.8 1444.2,724.4 1453.4,725.7 1462,733.2 1416.4,812.5 1421.5,868.5 1436,936 1440.5,939 1444,953 1446,958 1449.2,959.1 1465.4,1017.4 1450,1056.4 1430.2,1063.3" fill="none" stroke="#0000ff" stroke-width="2.08" stroke-linejoin="round"/>
<circle cx="1427.5" cy="964.2" r="3.6" fill="#0000ff"/>
<circle cx="1442.3" cy="963.3" r="3.6" fill="#0000ff"/>
<circle cx="1448.3" cy="956.3" r="3.6" fill="#0000ff"/>
<circle cx="1433.5" cy="958.2" r="3.6" fill="#0000ff"/>
<circle cx="1431.2" cy="948.5" r="3.6" fill="#0000ff"/>
<circle cx="1436.5" cy="951" r="3.6" fill="#0000ff"/>
<circle cx="1441" cy="946.5" r="3.6" fill="#0000ff"/>
<circle cx="1447.4" cy="951.7" r="3.6" fill="#0000ff"/>
<circle cx="1502.4" cy="920.3" r="3.6" fill="#0000ff"/>
<circle cx="1444.6" cy="944.3" r="3.6" fill="#0000ff"/>
<circle cx="1445.5" cy="949.9" r="3.6" fill="#0000ff"/>
<circle cx="1485.3" cy="901.3" r="3.6" fill="#0000ff"/>
<circle cx="1440" cy="924" r="3.6" fill="#0000ff"/>
<circle cx="1439" cy="942.5" r="3.6" fill="#0000ff"/>
<circle cx="1414.1" cy="936.4" r="3.6" fill="#0000ff"/>
<circle cx="1432.1" cy="925.8" r="3.6" fill="#0000ff"/>
<circle cx="1439.5" cy="925.3" r="3.6" fill="#0000ff"/>
<circle cx="1437.2" cy="919.3" r="3.6" fill="#0000ff"/>
<circle cx="1440.4" cy="915.2" r="3.6" fill="#0000ff"/>
<circle cx="1433" cy="903.1" r="3.6" fill="#0000ff"/>
<circle cx="1436.3" cy="892" r="3.6" fill="#0000ff"/>
<circle cx="1428.9" cy="891.6" r="3.6" fill="#0000ff"/>
<circle cx="1432.6" cy="879.1" r="3.6" fill="#0000ff"/>
<circle cx="1426.5" cy="860.1" r="3.6" fill="#0000ff"/>
<circle cx="1419.6" cy="874" r="3.6" fill="#0000ff"/>
<circle cx="1411.3" cy="874" r="3.6" fill="#0000ff"/>
<circle cx="1406.2" cy="881.4" r="3.6" fill="#0000ff"/>
<circle cx="1421.5" cy="868.5" r="3.6" fill="#0000ff"/>
<circle cx="1409.4" cy="827.3" r="3.6" fill="#0000ff"/>
<circle cx="1427.1" cy="721.3" r="3.6" fill="#0000ff"/>
<circle cx="1439.1" cy="712.4" r="3.6" fill="#0000ff"/>
<circle cx="1444.2" cy="706.9" r="3.6" fill="#0000ff"/>
<circle cx="1449.3" cy="713.8" r="3.6" fill="#0000ff"/>
<circle cx="1444.2" cy="724.4" r="3.6" fill="#0000ff"/>
<circle cx="1453.4" cy="725.7" r="3.6" fill="#0000ff"/>
<circle cx="1462" cy="733.2" r="3.6" fill="#0000ff"/>
<circle cx="1416.4" cy="812.5" r="3.6" fill="#0000ff"/>
<circle cx="1421.5" cy="868.5" r="3.6" fill="#0000ff"/>
<circle cx="1436" cy="936" r="3.6" fill="#0000ff"/>
<circle cx="1440.5" cy="939" r="3.6" fill="#0000ff"/>
<circle cx="1444" cy="953" r="3.6" fill="#0000ff"/>
<circle cx="1446" cy="958" r="3.6" fill="#0000ff"/>
<circle cx="1449.2" cy="959.1" r="3.6" fill="#0000ff"/>
<circle cx="1465.4" cy="1017.4" r="3.6" fill="#0000ff"/>
<circle cx="1450" cy="1056.4" r="3.6" fill="#0000ff"/>
<circle cx="1430.2" cy="1063.3" r="3.6" fill="#0000ff"/>
</g>
<rect x="1229" y="662" width="454" height="453.5" fill="none" stroke="#000" stroke-width="2.08"/>
<line x1="1319.8" y1="1115.5" x2="1319.8" y2="1107.2" stroke="#000" stroke-width="1.05"/>
<line x1="1319.8" y1="662" x2="1319.8" y2="670.3" stroke="#000" stroke-width="1.05"/>
<line x1="1410.6" y1="1115.5" x2="1410.6" y2="1107.2" stroke="#000" stroke-width="1.05"/>
<line x1="1410.6" y1="662" x2="1410.6" y2="670.3" stroke="#000" stroke-width="1.05"/>
<line x1="1501.4" y1="1115.5" x2="1501.4" y2="1107.2" stroke="#000" stroke-width="1.05"/>
<line x1="1501.4" y1="662" x2="1501.4" y2="670.3" stroke="#000" stroke-width="1.05"/>
<line x1="1592.2" y1="1115.5" x2="1592.2" y2="1107.2" stroke="#000" stroke-width="1.05"/>
<line x1="1592.2" y1="662" x2="1592.2" y2="670.3" stroke="#000" stroke-width="1.05"/>
<line x1="1229" y1="1024.8" x2="1237.3" y2="1024.8" stroke="#000" stroke-width="1.05"/>
<line x1="1683" y1="1024.8" x2="1674.7" y2="1024.8" stroke="#000" stroke-width="1.05"/>
<line x1="1229" y1="934.1" x2="1237.3" y2="934.1" stroke="#000" stroke-width="1.05"/>
<line x1="1683" y1="934.1" x2="1674.7" y2="934.1" stroke="#000" stroke-width="1.05"/>
<line x1="1229" y1="843.4" x2="1237.3" y2="843.4" stroke="#000" stroke-width="1.05"/>
<line x1="1683" y1="843.4" x2="1674.7" y2="843.4" stroke="#000" stroke-width="1.05"/>
<line x1="1229" y1="752.7" x2="1237.3" y2="752.7" stroke="#000" stroke-width="1.05"/>
<line x1="1683" y1="752.7" x2="1674.7" y2="752.7" stroke="#000" stroke-width="1.05"/>
<text x="1206.57" y="1138.5" font-size="17.5" textLength="44.67" lengthAdjust="spacingAndGlyphs">−150</text>
<text x="1297.37" y="1138.5" font-size="17.5" textLength="44.67" lengthAdjust="spacingAndGlyphs">−100</text>
<text x="1393.46" y="1138.5" font-size="17.5" textLength="34.08" lengthAdjust="spacingAndGlyphs">−50</text>
<text x="1496.51" y="1138.5" font-size="17.5" textLength="9.77" lengthAdjust="spacingAndGlyphs">0</text>
<text x="1582.06" y="1138.5" font-size="17.5" textLength="20.26" lengthAdjust="spacingAndGlyphs">50</text>
<text x="1667.14" y="1138.5" font-size="17.5" textLength="31.02" lengthAdjust="spacingAndGlyphs">100</text>
<text x="1175.11" y="1120.2" font-size="17.5" textLength="44.67" lengthAdjust="spacingAndGlyphs">−150</text>
<text x="1175.11" y="1029.5" font-size="17.5" textLength="44.67" lengthAdjust="spacingAndGlyphs">−100</text>
<text x="1185.7" y="938.8" font-size="17.5" textLength="34.08" lengthAdjust="spacingAndGlyphs">−50</text>
<text x="1209.91" y="848.1" font-size="17.5" textLength="9.77" lengthAdjust="spacingAndGlyphs">0</text>
<text x="1199.45" y="757.4" font-size="17.5" textLength="20.26" lengthAdjust="spacingAndGlyphs">50</text>
<text x="1188.7" y="666.7" font-size="17.5" textLength="31.02" lengthAdjust="spacingAndGlyphs">100</text>
<text x="1419.09" y="1168.8" font-size="17.5" textLength="74.89" lengthAdjust="spacingAndGlyphs">V3(km/s)</text>
<text transform="translate(1159.8 891.05) rotate(-90)" x="-36.91" y="0" font-size="17.5" textLength="74.89" lengthAdjust="spacingAndGlyphs">V1(km/s)</text>
<text x="1262.51" y="1094.1" font-size="19" font-family='"Liberation Serif", serif' font-style="italic" style="stroke:none" textLength="9.01" lengthAdjust="spacingAndGlyphs">λ</text>
<text x="1270.5" y="1097" font-size="13.5" font-family='"Liberation Serif", serif' style="stroke:none" textLength="6.25" lengthAdjust="spacingAndGlyphs">1</text>
<text x="1280" y="1098.5" font-size="24" font-family='"Liberation Serif", serif' style="stroke:none" textLength="7.4" lengthAdjust="spacingAndGlyphs">/</text>
<text x="1290.89" y="1094.1" font-size="19" font-family='"Liberation Serif", serif' font-style="italic" style="stroke:none" textLength="8.61" lengthAdjust="spacingAndGlyphs">λ</text>
<text x="1298.77" y="1097" font-size="13.5" font-family='"Liberation Serif", serif' style="stroke:none" textLength="6.54" lengthAdjust="spacingAndGlyphs">3</text>
<text x="1311.06" y="1092.3" font-size="19" font-family='"Liberation Serif", serif' style="stroke:none" textLength="14.62" lengthAdjust="spacingAndGlyphs">≈</text>
<text x="1332.54" y="1094.1" font-size="19.69" textLength="52.94" lengthAdjust="spacingAndGlyphs">27.54</text>
<text x="678.87" y="649.7" font-size="24.57" textLength="281.64" lengthAdjust="spacingAndGlyphs">Hodogram (V2_V1 MVAV</text>
<text x="960.34" y="652.65" font-size="15" font-family='"Liberation Serif", serif' font-style="italic" style="stroke:none" textLength="77.11" lengthAdjust="spacingAndGlyphs">remaining</text>
<text x="1045.82" y="649.7" font-size="24.57" textLength="77.03" lengthAdjust="spacingAndGlyphs">frame)</text>
<text x="1234.87" y="649.7" font-size="24.57" textLength="281.64" lengthAdjust="spacingAndGlyphs">Hodogram (V3_V1 MVAV</text>
<text x="1516.34" y="652.65" font-size="15" font-family='"Liberation Serif", serif' font-style="italic" style="stroke:none" textLength="77.11" lengthAdjust="spacingAndGlyphs">remaining</text>
<text x="1601.82" y="649.7" font-size="24.57" textLength="77.03" lengthAdjust="spacingAndGlyphs">frame)</text>
<clipPath id="cT1"><rect x="117" y="1305" width="1566" height="222"/></clipPath>
<g clip-path="url(#cT1)">
<line x1="117" y1="1400.14" x2="1683" y2="1400.14" stroke="#000" stroke-width="1.15" stroke-dasharray="12.5 12.5"/>
<polyline points="117,1312.5 145.47,1312.5 173.95,1311.4 202.42,1312.2 230.89,1316.2 259.36,1317.4 287.84,1320.8 316.31,1317.7 344.78,1315.1 373.25,1313.7 401.73,1315.7 430.2,1317.9 458.67,1318.5 487.15,1318.8 515.62,1318.8 544.09,1317.7 572.56,1316.8 601.04,1318.5 629.51,1318.2 657.98,1317.9 686.45,1320.8 714.93,1319.9 743.4,1321.6 771.87,1321.9 800.35,1320.5 828.82,1318.8 857.29,1315.1 885.76,1318.8 914.24,1327.6 942.71,1325.6 971.18,1327.3 999.65,1331.6 1028.13,1335.3 1056.6,1336.7 1085.07,1336.7 1113.55,1340.4 1142.02,1347 1170.49,1348.1 1198.96,1345.6 1227.44,1345.6 1255.91,1350.7 1284.38,1352.7 1312.85,1345.6 1341.33,1367.8 1369.8,1398.2 1398.27,1410.5 1426.75,1413 1455.22,1415.9 1483.69,1423.3 1512.16,1427 1540.64,1426.4 1569.11,1423.8 1597.58,1366 1626.05,1332 1654.53,1324.5 1683,1326.3" fill="none" stroke="#ff0000" stroke-width="2.08" stroke-linejoin="round"/>
<polyline points="117,1439.8 145.47,1438.6 173.95,1440.6 202.42,1442.4 230.89,1447.5 259.36,1446 287.84,1449.5 316.31,1446 344.78,1446.3 373.25,1446 401.73,1447.8 430.2,1446.3 458.67,1450.9 487.15,1450.9 515.62,1449.2 544.09,1450.3 572.56,1448.3 601.04,1449.5 629.51,1453.7 657.98,1451.5 686.45,1450 714.93,1453.2 743.4,1452 771.87,1452.9 800.35,1453.2 828.82,1451.2 857.29,1450 885.76,1452.9 914.24,1463.7 942.71,1458.9 971.18,1465.4 999.65,1469.7 1028.13,1473.4 1056.6,1473.4 1085.07,1473.4 1113.55,1475.9 1142.02,1479.6 1170.49,1473.9 1198.96,1475.4 1227.44,1475.9 1255.91,1478.5 1284.38,1481.1 1312.85,1476.2 1341.33,1491.9 1369.8,1497 1398.27,1499.9 1426.75,1499.6 1455.22,1499.9 1483.69,1497.6 1512.16,1497.3 1540.64,1497 1569.11,1496.2 1597.58,1487 1626.05,1429.5 1654.53,1339 1683,1349.7" fill="none" stroke="#008000" stroke-width="2.08" stroke-linejoin="round"/>
<polyline points="117,1358.9 145.47,1356.7 173.95,1359.5 202.42,1360.4 230.89,1358.1 259.36,1354.1 287.84,1351.8 316.31,1353 344.78,1360.1 373.25,1362.1 401.73,1359.8 430.2,1353.5 458.67,1360.1 487.15,1356.1 515.62,1357.8 544.09,1358.1 572.56,1358.9 601.04,1357.8 629.51,1363.5 657.98,1362.1 686.45,1353.2 714.93,1360.1 743.4,1354.7 771.87,1354.4 800.35,1359.2 828.82,1360.1 857.29,1366 885.76,1362.9 914.24,1360.4 942.71,1358.6 971.18,1364.3 999.65,1362.1 1028.13,1364.6 1056.6,1361.5 1085.07,1362.9 1113.55,1360.9 1142.02,1359.2 1170.49,1348.4 1198.96,1353 1227.44,1354.4 1255.91,1356.1 1284.38,1356.9 1312.85,1359.8 1341.33,1373.5 1369.8,1386.8 1398.27,1399.1 1426.75,1397.9 1455.22,1397.1 1483.69,1397.9 1512.16,1398.5 1540.64,1397.1 1569.11,1389.4 1597.58,1370.3 1626.05,1367.5 1654.53,1377 1683,1358.5" fill="none" stroke="#0000ff" stroke-width="2.08" stroke-linejoin="round"/>
</g>
<rect x="117" y="1305" width="1566" height="222" fill="none" stroke="#000" stroke-width="2.08"/>
<line x1="259.36" y1="1527" x2="259.36" y2="1518.7" stroke="#000" stroke-width="1.05"/>
<line x1="259.36" y1="1305" x2="259.36" y2="1313.3" stroke="#000" stroke-width="1.05"/>
<line x1="544.09" y1="1527" x2="544.09" y2="1518.7" stroke="#000" stroke-width="1.05"/>
<line x1="544.09" y1="1305" x2="544.09" y2="1313.3" stroke="#000" stroke-width="1.05"/>
<line x1="828.82" y1="1527" x2="828.82" y2="1518.7" stroke="#000" stroke-width="1.05"/>
<line x1="828.82" y1="1305" x2="828.82" y2="1313.3" stroke="#000" stroke-width="1.05"/>
<line x1="1113.55" y1="1527" x2="1113.55" y2="1518.7" stroke="#000" stroke-width="1.05"/>
<line x1="1113.55" y1="1305" x2="1113.55" y2="1313.3" stroke="#000" stroke-width="1.05"/>
<line x1="1398.27" y1="1527" x2="1398.27" y2="1518.7" stroke="#000" stroke-width="1.05"/>
<line x1="1398.27" y1="1305" x2="1398.27" y2="1313.3" stroke="#000" stroke-width="1.05"/>
<line x1="117" y1="1495.29" x2="125.3" y2="1495.29" stroke="#000" stroke-width="1.05"/>
<line x1="1683" y1="1495.29" x2="1674.7" y2="1495.29" stroke="#000" stroke-width="1.05"/>
<line x1="117" y1="1463.57" x2="125.3" y2="1463.57" stroke="#000" stroke-width="1.05"/>
<line x1="1683" y1="1463.57" x2="1674.7" y2="1463.57" stroke="#000" stroke-width="1.05"/>
<line x1="117" y1="1431.86" x2="125.3" y2="1431.86" stroke="#000" stroke-width="1.05"/>
<line x1="1683" y1="1431.86" x2="1674.7" y2="1431.86" stroke="#000" stroke-width="1.05"/>
<line x1="117" y1="1400.14" x2="125.3" y2="1400.14" stroke="#000" stroke-width="1.05"/>
<line x1="1683" y1="1400.14" x2="1674.7" y2="1400.14" stroke="#000" stroke-width="1.05"/>
<line x1="117" y1="1368.43" x2="125.3" y2="1368.43" stroke="#000" stroke-width="1.05"/>
<line x1="1683" y1="1368.43" x2="1674.7" y2="1368.43" stroke="#000" stroke-width="1.05"/>
<line x1="117" y1="1336.71" x2="125.3" y2="1336.71" stroke="#000" stroke-width="1.05"/>
<line x1="1683" y1="1336.71" x2="1674.7" y2="1336.71" stroke="#000" stroke-width="1.05"/>
<text x="195.73" y="1550" font-size="17.5" textLength="127.36" lengthAdjust="spacingAndGlyphs">06/17 03:53:03</text>
<text x="480.46" y="1550" font-size="17.5" textLength="127.36" lengthAdjust="spacingAndGlyphs">06/17 03:53:13</text>
<text x="765.19" y="1550" font-size="17.5" textLength="127.36" lengthAdjust="spacingAndGlyphs">06/17 03:53:23</text>
<text x="1049.91" y="1550" font-size="17.5" textLength="127.36" lengthAdjust="spacingAndGlyphs">06/17 03:53:33</text>
<text x="1334.64" y="1550" font-size="17.5" textLength="127.36" lengthAdjust="spacingAndGlyphs">06/17 03:53:43</text>
<text x="1619.37" y="1550" font-size="17.5" textLength="127.36" lengthAdjust="spacingAndGlyphs">06/17 03:53:53</text>
<text x="73.7" y="1531.7" font-size="17.5" textLength="34.08" lengthAdjust="spacingAndGlyphs">−80</text>
<text x="73.7" y="1499.99" font-size="17.5" textLength="34.08" lengthAdjust="spacingAndGlyphs">−60</text>
<text x="73.7" y="1468.27" font-size="17.5" textLength="34.08" lengthAdjust="spacingAndGlyphs">−40</text>
<text x="73.7" y="1436.56" font-size="17.5" textLength="34.08" lengthAdjust="spacingAndGlyphs">−20</text>
<text x="97.91" y="1404.84" font-size="17.5" textLength="9.77" lengthAdjust="spacingAndGlyphs">0</text>
<text x="87.19" y="1373.13" font-size="17.5" textLength="20.53" lengthAdjust="spacingAndGlyphs">20</text>
<text x="87.29" y="1341.41" font-size="17.5" textLength="20.43" lengthAdjust="spacingAndGlyphs">40</text>
<text x="87.12" y="1309.7" font-size="17.5" textLength="20.61" lengthAdjust="spacingAndGlyphs">60</text>
<text x="740.43" y="1295.2" font-size="24.57" textLength="319.23" lengthAdjust="spacingAndGlyphs">Magnetic Field (RTN Frame)</text>
<text transform="translate(60.3 1418.3) rotate(-90)" x="-22.53" y="0" font-size="17.5" textLength="44.7" lengthAdjust="spacingAndGlyphs">B(nT)</text>
<rect x="1604.2" y="1312" width="71.8" height="71.5" fill="#fff" stroke="#000" stroke-width="2.08"/>
<line x1="1613" y1="1324.9" x2="1636" y2="1324.9" stroke="#ff0000" stroke-width="2.08"/>
<text x="1650.46" y="1329.9" font-size="16.2" textLength="16.29" lengthAdjust="spacingAndGlyphs">Br</text>
<line x1="1613" y1="1346.9" x2="1636" y2="1346.9" stroke="#008000" stroke-width="2.08"/>
<text x="1650.45" y="1351.9" font-size="16.2" textLength="15.52" lengthAdjust="spacingAndGlyphs">Bt</text>
<line x1="1613" y1="1369.7" x2="1636" y2="1369.7" stroke="#0000ff" stroke-width="2.08"/>
<text x="1650.53" y="1374.7" font-size="16.2" textLength="18.99" lengthAdjust="spacingAndGlyphs">Bn</text>
<clipPath id="cT2"><rect x="117" y="1638.6" width="1566" height="222"/></clipPath>
<g clip-path="url(#cT2)">
<line x1="117" y1="1765.46" x2="1683" y2="1765.46" stroke="#000" stroke-width="1.15" stroke-dasharray="12.5 12.5"/>
<polyline points="117,1843.1 145.47,1843.1 173.95,1844 202.42,1843.1 230.89,1838.3 259.36,1836.8 287.84,1833.1 316.31,1836.6 344.78,1840 373.25,1841.4 401.73,1839.1 430.2,1836.6 458.67,1836.6 487.15,1835.4 515.62,1836 544.09,1836.6 572.56,1837.4 601.04,1836 629.51,1836.6 657.98,1836.8 686.45,1833.1 714.93,1834.3 743.4,1832.6 771.87,1832 800.35,1833.4 828.82,1835.4 857.29,1839.7 885.76,1836 914.24,1825.7 942.71,1828.3 971.18,1826.3 999.65,1820.9 1028.13,1817.2 1056.6,1815.5 1085.07,1816.1 1113.55,1811.8 1142.02,1804.7 1170.49,1803 1198.96,1805.5 1227.44,1805.8 1255.91,1801 1284.38,1798.4 1312.85,1805.8 1341.33,1783.9 1369.8,1755.4 1398.27,1744 1426.75,1741.8 1455.22,1738.9 1483.69,1731.5 1512.16,1728.1 1540.64,1728.4 1569.11,1730.1 1597.58,1786.2 1626.05,1827.2 1654.53,1843.1 1683,1840" fill="none" stroke="#ff0000" stroke-width="2.08" stroke-linejoin="round"/>
<polyline points="117,1784.2 145.47,1786.7 173.95,1783 202.42,1781.3 230.89,1780.5 259.36,1785 287.84,1784.7 316.31,1785.6 344.78,1779.3 373.25,1778.2 401.73,1779.3 430.2,1785 458.67,1777.1 487.15,1780.2 515.62,1779.9 544.09,1779.3 572.56,1779.6 601.04,1779.9 629.51,1772.8 657.98,1774.8 686.45,1783 714.93,1775.9 743.4,1780.8 771.87,1780.8 800.35,1776.8 828.82,1776.8 857.29,1772.5 885.76,1773.6 914.24,1769.9 942.71,1774.2 971.18,1765.7 999.65,1765.4 1028.13,1761.1 1056.6,1764 1085.07,1762.5 1113.55,1763.1 1142.02,1762.3 1170.49,1774.5 1198.96,1769.9 1227.44,1768.2 1255.91,1765.1 1284.38,1763.1 1312.85,1763.1 1341.33,1743.2 1369.8,1727 1398.27,1715 1426.75,1716.1 1455.22,1716.7 1483.69,1716.7 1512.16,1716.1 1540.64,1717.3 1569.11,1724.4 1597.58,1748.3 1626.05,1780.2 1654.53,1822.9 1683,1829.4" fill="none" stroke="#008000" stroke-width="2.08" stroke-linejoin="round"/>
<polyline points="117,1697.6 145.47,1697.6 173.95,1697.3 202.42,1696.2 230.89,1691.4 259.36,1691.1 287.84,1687.1 316.31,1690.8 344.78,1693.4 373.25,1694.5 401.73,1692.2 430.2,1690.8 458.67,1689.9 487.15,1687.9 515.62,1689.9 544.09,1689.1 572.56,1691.1 601.04,1689.9 629.51,1689.4 657.98,1690.5 686.45,1687.7 714.93,1688.2 743.4,1686.8 771.87,1686 800.35,1687.7 828.82,1689.7 857.29,1692.8 885.76,1689.7 914.24,1680.5 942.71,1683.7 971.18,1680.8 999.65,1677.1 1028.13,1675.4 1056.6,1674.3 1085.07,1675.1 1113.55,1672.3 1142.02,1669.2 1170.49,1668.6 1198.96,1669.4 1227.44,1669.7 1255.91,1669.2 1284.38,1667.7 1312.85,1672.3 1341.33,1668.6 1369.8,1675.7 1398.27,1681.4 1426.75,1681.4 1455.22,1681.1 1483.69,1684.5 1512.16,1685.4 1540.64,1684.8 1569.11,1681.7 1597.58,1670.6 1626.05,1717 1654.53,1790.4 1683,1777.6" fill="none" stroke="#0000ff" stroke-width="2.08" stroke-linejoin="round"/>
<polyline points="117,1660.6 145.47,1660 173.95,1660 202.42,1660.3 230.89,1660.3 259.36,1660.3 287.84,1660.3 316.31,1660.3 344.78,1661.2 373.25,1660.6 401.73,1660.3 430.2,1660.3 458.67,1661.5 487.15,1660 515.62,1661.2 544.09,1660 572.56,1660.6 601.04,1660.9 629.51,1660.9 657.98,1661.2 686.45,1660.9 714.93,1661.5 743.4,1661.2 771.87,1660.9 800.35,1661.5 828.82,1661.5 857.29,1661.2 885.76,1661.5 914.24,1661.2 942.71,1661.8 971.18,1661.2 999.65,1660.9 1028.13,1661.5 1056.6,1661.2 1085.07,1661.5 1113.55,1661.5 1142.02,1661.8 1170.49,1661.2 1198.96,1661.2 1227.44,1661.2 1255.91,1662.6 1284.38,1662 1312.85,1663.7 1341.33,1664.3 1369.8,1667.4 1398.27,1665.2 1426.75,1664.9 1455.22,1664.3 1483.69,1664.9 1512.16,1664.3 1540.64,1664.6 1569.11,1665.5 1597.58,1666.9 1626.05,1666.6 1654.53,1666.3 1683,1667.2" fill="none" stroke="#000000" stroke-width="2.08" stroke-linejoin="round"/>
</g>
<rect x="117" y="1638.6" width="1566" height="222" fill="none" stroke="#000" stroke-width="2.08"/>
<line x1="259.36" y1="1860.6" x2="259.36" y2="1852.3" stroke="#000" stroke-width="1.05"/>
<line x1="259.36" y1="1638.6" x2="259.36" y2="1646.9" stroke="#000" stroke-width="1.05"/>
<line x1="544.09" y1="1860.6" x2="544.09" y2="1852.3" stroke="#000" stroke-width="1.05"/>
<line x1="544.09" y1="1638.6" x2="544.09" y2="1646.9" stroke="#000" stroke-width="1.05"/>
<line x1="828.82" y1="1860.6" x2="828.82" y2="1852.3" stroke="#000" stroke-width="1.05"/>
<line x1="828.82" y1="1638.6" x2="828.82" y2="1646.9" stroke="#000" stroke-width="1.05"/>
<line x1="1113.55" y1="1860.6" x2="1113.55" y2="1852.3" stroke="#000" stroke-width="1.05"/>
<line x1="1113.55" y1="1638.6" x2="1113.55" y2="1646.9" stroke="#000" stroke-width="1.05"/>
<line x1="1398.27" y1="1860.6" x2="1398.27" y2="1852.3" stroke="#000" stroke-width="1.05"/>
<line x1="1398.27" y1="1638.6" x2="1398.27" y2="1646.9" stroke="#000" stroke-width="1.05"/>
<line x1="117" y1="1828.89" x2="125.3" y2="1828.89" stroke="#000" stroke-width="1.05"/>
<line x1="1683" y1="1828.89" x2="1674.7" y2="1828.89" stroke="#000" stroke-width="1.05"/>
<line x1="117" y1="1797.17" x2="125.3" y2="1797.17" stroke="#000" stroke-width="1.05"/>
<line x1="1683" y1="1797.17" x2="1674.7" y2="1797.17" stroke="#000" stroke-width="1.05"/>
<line x1="117" y1="1765.46" x2="125.3" y2="1765.46" stroke="#000" stroke-width="1.05"/>
<line x1="1683" y1="1765.46" x2="1674.7" y2="1765.46" stroke="#000" stroke-width="1.05"/>
<line x1="117" y1="1733.74" x2="125.3" y2="1733.74" stroke="#000" stroke-width="1.05"/>
<line x1="1683" y1="1733.74" x2="1674.7" y2="1733.74" stroke="#000" stroke-width="1.05"/>
<line x1="117" y1="1702.03" x2="125.3" y2="1702.03" stroke="#000" stroke-width="1.05"/>
<line x1="1683" y1="1702.03" x2="1674.7" y2="1702.03" stroke="#000" stroke-width="1.05"/>
<line x1="117" y1="1670.31" x2="125.3" y2="1670.31" stroke="#000" stroke-width="1.05"/>
<line x1="1683" y1="1670.31" x2="1674.7" y2="1670.31" stroke="#000" stroke-width="1.05"/>
<text x="195.73" y="1883.6" font-size="17.5" textLength="127.36" lengthAdjust="spacingAndGlyphs">06/17 03:53:03</text>
<text x="480.46" y="1883.6" font-size="17.5" textLength="127.36" lengthAdjust="spacingAndGlyphs">06/17 03:53:13</text>
<text x="765.19" y="1883.6" font-size="17.5" textLength="127.36" lengthAdjust="spacingAndGlyphs">06/17 03:53:23</text>
<text x="1049.91" y="1883.6" font-size="17.5" textLength="127.36" lengthAdjust="spacingAndGlyphs">06/17 03:53:33</text>
<text x="1334.64" y="1883.6" font-size="17.5" textLength="127.36" lengthAdjust="spacingAndGlyphs">06/17 03:53:43</text>
<text x="1619.37" y="1883.6" font-size="17.5" textLength="127.36" lengthAdjust="spacingAndGlyphs">06/17 03:53:53</text>
<text x="73.7" y="1865.3" font-size="17.5" textLength="34.08" lengthAdjust="spacingAndGlyphs">−60</text>
<text x="73.7" y="1833.59" font-size="17.5" textLength="34.08" lengthAdjust="spacingAndGlyphs">−40</text>
<text x="73.7" y="1801.87" font-size="17.5" textLength="34.08" lengthAdjust="spacingAndGlyphs">−20</text>
<text x="97.91" y="1770.16" font-size="17.5" textLength="9.77" lengthAdjust="spacingAndGlyphs">0</text>
<text x="87.19" y="1738.44" font-size="17.5" textLength="20.53" lengthAdjust="spacingAndGlyphs">20</text>
<text x="87.29" y="1706.73" font-size="17.5" textLength="20.43" lengthAdjust="spacingAndGlyphs">40</text>
<text x="87.12" y="1675.01" font-size="17.5" textLength="20.61" lengthAdjust="spacingAndGlyphs">60</text>
<text x="87.22" y="1643.3" font-size="17.5" textLength="20.5" lengthAdjust="spacingAndGlyphs">80</text>
<text x="706.41" y="1628.8" font-size="24.57" textLength="385.76" lengthAdjust="spacingAndGlyphs">Magnetic Field (Flux Rope Frame)</text>
<text transform="translate(60.3 1751.9) rotate(-90)" x="-22.53" y="0" font-size="17.5" textLength="44.7" lengthAdjust="spacingAndGlyphs">B(nT)</text>
<rect x="1600.9" y="1645.8" width="74.9" height="94" fill="#fff" stroke="#000" stroke-width="2.08"/>
<line x1="1610.3" y1="1658.6" x2="1631.6" y2="1658.6" stroke="#ff0000" stroke-width="2.08"/>
<text x="1646.86" y="1663.6" font-size="16.2" textLength="22.13" lengthAdjust="spacingAndGlyphs">Bx'</text>
<line x1="1610.3" y1="1680.8" x2="1631.6" y2="1680.8" stroke="#008000" stroke-width="2.08"/>
<text x="1646.86" y="1685.8" font-size="16.2" textLength="22.13" lengthAdjust="spacingAndGlyphs">By'</text>
<line x1="1610.3" y1="1702.8" x2="1631.6" y2="1702.8" stroke="#0000ff" stroke-width="2.08"/>
<text x="1646.93" y="1707.8" font-size="16.2" textLength="21.04" lengthAdjust="spacingAndGlyphs">Bz'</text>
<line x1="1610.3" y1="1724.7" x2="1631.6" y2="1724.7" stroke="#000000" stroke-width="2.08"/>
<text x="1646.76" y="1729.7" font-size="16.2" textLength="19.14" lengthAdjust="spacingAndGlyphs">|B|</text>
<clipPath id="cT3"><rect x="117" y="1972.2" width="1566" height="222"/></clipPath>
<g clip-path="url(#cT3)">
<polyline points="117,2018.7 145.47,2018.1 173.95,2017.5 202.42,2018.1 230.89,2017.8 259.36,2017.8 287.84,2017 316.31,2017 344.78,2019 373.25,2018.1 401.73,2019.8 430.2,2017 458.67,2017 487.15,2015.8 515.62,2017 544.09,2017 572.56,2017.2 601.04,2017 629.51,2016.7 657.98,2016.1 686.45,2015.3 714.93,2016.7 743.4,2014.4 771.87,2014.7 800.35,2016.7 828.82,2017.5 857.29,2017.5 885.76,2015.8 914.24,2014.7 942.71,2013.8 971.18,2013.3 999.65,2011.8 1028.13,2010.4 1056.6,2010.1 1085.07,2010.7 1113.55,2009 1142.02,2007.3 1170.49,2007.6 1198.96,2007.6 1227.44,2007 1255.91,2006.1 1284.38,2006.1 1312.85,2007 1341.33,1997.9 1369.8,1987.1 1398.27,1987.1 1426.75,1985.6 1455.22,1985.4 1483.69,1982.5 1512.16,1983.1 1540.64,1982.5 1569.11,1984.2 1597.58,2001.6 1626.05,2010.1 1654.53,2016.7 1683,2017.2" fill="none" stroke="#ff0000" stroke-width="2.08" stroke-linejoin="round"/>
<polyline points="117,2145.6 145.47,2145.6 173.95,2145.6 202.42,2144.5 230.89,2143.9 259.36,2145.1 287.84,2143.4 316.31,2144.5 344.78,2144.5 373.25,2146.2 401.73,2135.1 430.2,2144.2 458.67,2144.5 487.15,2142.2 515.62,2144.5 544.09,2143.9 572.56,2144.8 601.04,2144.5 629.51,2144.2 657.98,2143.1 686.45,2142.8 714.93,2142.5 743.4,2141.9 771.87,2142.8 800.35,2142.8 828.82,2142.2 857.29,2143.1 885.76,2134.8 914.24,2141.1 942.71,2140.5 971.18,2140 999.65,2139.1 1028.13,2138 1056.6,2138.5 1085.07,2138.5 1113.55,2137.4 1142.02,2138.2 1170.49,2139.1 1198.96,2137.1 1227.44,2137.1 1255.91,2136.5 1284.38,2136.5 1312.85,2138 1341.33,2134.3 1369.8,2132 1398.27,2132 1426.75,2131.1 1455.22,2132 1483.69,2132.3 1512.16,2132.5 1540.64,2131.7 1569.11,2131.1 1597.58,2134.5 1626.05,2163.6 1654.53,2173.5 1683,2175.5" fill="none" stroke="#008000" stroke-width="2.08" stroke-linejoin="round"/>
<polyline points="117,2145.6 145.47,2145.6 173.95,2145.4 202.42,2144.5 230.89,2145.4 259.36,2146.5 287.84,2146.5 316.31,2146.2 344.78,2144.2 373.25,2147.6 401.73,2135.1 430.2,2146.5 458.67,2145.1 487.15,2145.1 515.62,2145.9 544.09,2145.9 572.56,2145.1 601.04,2146.2 629.51,2144.5 657.98,2145.4 686.45,2146.2 714.93,2145.1 743.4,2145.6 771.87,2148.8 800.35,2145.4 828.82,2145.4 857.29,2143.7 885.76,2136.8 914.24,2145.1 942.71,2145.1 971.18,2144.5 999.65,2145.1 1028.13,2144.8 1056.6,2145.6 1085.07,2144.5 1113.55,2144.8 1142.02,2146.5 1170.49,2148.5 1198.96,2147.4 1227.44,2145.9 1255.91,2145.1 1284.38,2145.1 1312.85,2145.6 1341.33,2144.8 1369.8,2135.4 1398.27,2136 1426.75,2138 1455.22,2136.8 1483.69,2138.2 1512.16,2136.8 1540.64,2137.4 1569.11,2140.5 1597.58,2146.2 1626.05,2144.5 1654.53,2147.9 1683,2151.1" fill="none" stroke="#0000ff" stroke-width="2.08" stroke-linejoin="round"/>
</g>
<rect x="117" y="1972.2" width="1566" height="222" fill="none" stroke="#000" stroke-width="2.08"/>
<line x1="259.36" y1="2194.2" x2="259.36" y2="2185.9" stroke="#000" stroke-width="1.05"/>
<line x1="259.36" y1="1972.2" x2="259.36" y2="1980.5" stroke="#000" stroke-width="1.05"/>
<line x1="544.09" y1="2194.2" x2="544.09" y2="2185.9" stroke="#000" stroke-width="1.05"/>
<line x1="544.09" y1="1972.2" x2="544.09" y2="1980.5" stroke="#000" stroke-width="1.05"/>
<line x1="828.82" y1="2194.2" x2="828.82" y2="2185.9" stroke="#000" stroke-width="1.05"/>
<line x1="828.82" y1="1972.2" x2="828.82" y2="1980.5" stroke="#000" stroke-width="1.05"/>
<line x1="1113.55" y1="2194.2" x2="1113.55" y2="2185.9" stroke="#000" stroke-width="1.05"/>
<line x1="1113.55" y1="1972.2" x2="1113.55" y2="1980.5" stroke="#000" stroke-width="1.05"/>
<line x1="1398.27" y1="2194.2" x2="1398.27" y2="2185.9" stroke="#000" stroke-width="1.05"/>
<line x1="1398.27" y1="1972.2" x2="1398.27" y2="1980.5" stroke="#000" stroke-width="1.05"/>
<line x1="117" y1="2166.45" x2="125.3" y2="2166.45" stroke="#000" stroke-width="1.05"/>
<line x1="1683" y1="2166.45" x2="1674.7" y2="2166.45" stroke="#000" stroke-width="1.05"/>
<line x1="117" y1="2138.7" x2="125.3" y2="2138.7" stroke="#000" stroke-width="1.05"/>
<line x1="1683" y1="2138.7" x2="1674.7" y2="2138.7" stroke="#000" stroke-width="1.05"/>
<line x1="117" y1="2110.95" x2="125.3" y2="2110.95" stroke="#000" stroke-width="1.05"/>
<line x1="1683" y1="2110.95" x2="1674.7" y2="2110.95" stroke="#000" stroke-width="1.05"/>
<line x1="117" y1="2083.2" x2="125.3" y2="2083.2" stroke="#000" stroke-width="1.05"/>
<line x1="1683" y1="2083.2" x2="1674.7" y2="2083.2" stroke="#000" stroke-width="1.05"/>
<line x1="117" y1="2055.45" x2="125.3" y2="2055.45" stroke="#000" stroke-width="1.05"/>
<line x1="1683" y1="2055.45" x2="1674.7" y2="2055.45" stroke="#000" stroke-width="1.05"/>
<line x1="117" y1="2027.7" x2="125.3" y2="2027.7" stroke="#000" stroke-width="1.05"/>
<line x1="1683" y1="2027.7" x2="1674.7" y2="2027.7" stroke="#000" stroke-width="1.05"/>
<line x1="117" y1="1999.95" x2="125.3" y2="1999.95" stroke="#000" stroke-width="1.05"/>
<line x1="1683" y1="1999.95" x2="1674.7" y2="1999.95" stroke="#000" stroke-width="1.05"/>
<text x="195.73" y="2217.2" font-size="17.5" textLength="127.36" lengthAdjust="spacingAndGlyphs">06/17 03:53:03</text>
<text x="480.46" y="2217.2" font-size="17.5" textLength="127.36" lengthAdjust="spacingAndGlyphs">06/17 03:53:13</text>
<text x="765.19" y="2217.2" font-size="17.5" textLength="127.36" lengthAdjust="spacingAndGlyphs">06/17 03:53:23</text>
<text x="1049.91" y="2217.2" font-size="17.5" textLength="127.36" lengthAdjust="spacingAndGlyphs">06/17 03:53:33</text>
<text x="1334.64" y="2217.2" font-size="17.5" textLength="127.36" lengthAdjust="spacingAndGlyphs">06/17 03:53:43</text>
<text x="1619.37" y="2217.2" font-size="17.5" textLength="127.36" lengthAdjust="spacingAndGlyphs">06/17 03:53:53</text>
<text x="63.11" y="2198.9" font-size="17.5" textLength="44.67" lengthAdjust="spacingAndGlyphs">−200</text>
<text x="63.11" y="2171.15" font-size="17.5" textLength="44.67" lengthAdjust="spacingAndGlyphs">−100</text>
<text x="97.91" y="2143.4" font-size="17.5" textLength="9.77" lengthAdjust="spacingAndGlyphs">0</text>
<text x="76.7" y="2115.65" font-size="17.5" textLength="31.02" lengthAdjust="spacingAndGlyphs">100</text>
<text x="76.57" y="2087.9" font-size="17.5" textLength="31.16" lengthAdjust="spacingAndGlyphs">200</text>
<text x="76.86" y="2060.15" font-size="17.5" textLength="30.87" lengthAdjust="spacingAndGlyphs">300</text>
<text x="76.68" y="2032.4" font-size="17.5" textLength="31.05" lengthAdjust="spacingAndGlyphs">400</text>
<text x="76.83" y="2004.65" font-size="17.5" textLength="30.89" lengthAdjust="spacingAndGlyphs">500</text>
<text x="76.5" y="1976.9" font-size="17.5" textLength="31.23" lengthAdjust="spacingAndGlyphs">600</text>
<text x="712.75" y="1962.4" font-size="24.57" textLength="374.91" lengthAdjust="spacingAndGlyphs">Solar Wind Velocity (RTN Frame)</text>
<text transform="translate(48 2085.5) rotate(-90)" x="-42.76" y="0" font-size="17.5" textLength="86.59" lengthAdjust="spacingAndGlyphs">Vsw(km/s)</text>
<rect x="1603.7" y="1978.8" width="72.1" height="71.8" fill="#fff" stroke="#000" stroke-width="2.08"/>
<line x1="1613" y1="1991.6" x2="1636" y2="1991.6" stroke="#ff0000" stroke-width="2.08"/>
<text x="1650.93" y="1996.6" font-size="16.2" textLength="16.33" lengthAdjust="spacingAndGlyphs">Vr</text>
<line x1="1613" y1="2013.8" x2="1636" y2="2013.8" stroke="#008000" stroke-width="2.08"/>
<text x="1650.93" y="2018.8" font-size="16.2" textLength="15.55" lengthAdjust="spacingAndGlyphs">Vt</text>
<line x1="1613" y1="2036.6" x2="1636" y2="2036.6" stroke="#0000ff" stroke-width="2.08"/>
<text x="1650.93" y="2041.6" font-size="16.2" textLength="19.09" lengthAdjust="spacingAndGlyphs">Vn</text>
<clipPath id="cT4"><rect x="117" y="2305.8" width="1566" height="222"/></clipPath>
<g clip-path="url(#cT4)">
<polyline points="117,2493 145.47,2477.7 173.95,2468.5 202.42,2472.8 230.89,2496.2 259.36,2485.1 287.84,2445.2 316.31,2496.2 344.78,2510.7 373.25,2480.8 401.73,2524.9 430.2,2493 458.67,2493 487.15,2499.9 515.62,2495.9 544.09,2495.6 572.56,2501 601.04,2491.9 629.51,2493.3 657.98,2498.4 686.45,2477.9 714.93,2480.2 743.4,2483.6 771.87,2491.9 800.35,2477.9 828.82,2466.5 857.29,2496.4 885.76,2481.1 914.24,2472.5 942.71,2472 971.18,2470.3 999.65,2483.1 1028.13,2472 1056.6,2490.5 1085.07,2463.7 1113.55,2453.5 1142.02,2480.8 1170.49,2482.5 1198.96,2477.9 1227.44,2458.3 1255.91,2423 1284.38,2481.1 1312.85,2475.1 1341.33,2488.8 1369.8,2470.8 1398.27,2492.7 1426.75,2462.3 1455.22,2473.4 1483.69,2479.9 1512.16,2486.5 1540.64,2478.5 1569.11,2468 1597.58,2462 1626.05,2337.9 1654.53,2428.1 1683,2398.8" fill="none" stroke="#0000ff" stroke-width="2.08" stroke-linejoin="round"/>
</g>
<rect x="117" y="2305.8" width="1566" height="222" fill="none" stroke="#000" stroke-width="2.08"/>
<line x1="259.36" y1="2527.8" x2="259.36" y2="2519.5" stroke="#000" stroke-width="1.05"/>
<line x1="259.36" y1="2305.8" x2="259.36" y2="2314.1" stroke="#000" stroke-width="1.05"/>
<line x1="544.09" y1="2527.8" x2="544.09" y2="2519.5" stroke="#000" stroke-width="1.05"/>
<line x1="544.09" y1="2305.8" x2="544.09" y2="2314.1" stroke="#000" stroke-width="1.05"/>
<line x1="828.82" y1="2527.8" x2="828.82" y2="2519.5" stroke="#000" stroke-width="1.05"/>
<line x1="828.82" y1="2305.8" x2="828.82" y2="2314.1" stroke="#000" stroke-width="1.05"/>
<line x1="1113.55" y1="2527.8" x2="1113.55" y2="2519.5" stroke="#000" stroke-width="1.05"/>
<line x1="1113.55" y1="2305.8" x2="1113.55" y2="2314.1" stroke="#000" stroke-width="1.05"/>
<line x1="1398.27" y1="2527.8" x2="1398.27" y2="2519.5" stroke="#000" stroke-width="1.05"/>
<line x1="1398.27" y1="2305.8" x2="1398.27" y2="2314.1" stroke="#000" stroke-width="1.05"/>
<line x1="117" y1="2483.4" x2="125.3" y2="2483.4" stroke="#000" stroke-width="1.05"/>
<line x1="1683" y1="2483.4" x2="1674.7" y2="2483.4" stroke="#000" stroke-width="1.05"/>
<line x1="117" y1="2439" x2="125.3" y2="2439" stroke="#000" stroke-width="1.05"/>
<line x1="1683" y1="2439" x2="1674.7" y2="2439" stroke="#000" stroke-width="1.05"/>
<line x1="117" y1="2394.6" x2="125.3" y2="2394.6" stroke="#000" stroke-width="1.05"/>
<line x1="1683" y1="2394.6" x2="1674.7" y2="2394.6" stroke="#000" stroke-width="1.05"/>
<line x1="117" y1="2350.2" x2="125.3" y2="2350.2" stroke="#000" stroke-width="1.05"/>
<line x1="1683" y1="2350.2" x2="1674.7" y2="2350.2" stroke="#000" stroke-width="1.05"/>
<text x="195.73" y="2550.8" font-size="17.5" textLength="127.36" lengthAdjust="spacingAndGlyphs">06/17 03:53:03</text>
<text x="480.46" y="2550.8" font-size="17.5" textLength="127.36" lengthAdjust="spacingAndGlyphs">06/17 03:53:13</text>
<text x="765.19" y="2550.8" font-size="17.5" textLength="127.36" lengthAdjust="spacingAndGlyphs">06/17 03:53:23</text>
<text x="1049.91" y="2550.8" font-size="17.5" textLength="127.36" lengthAdjust="spacingAndGlyphs">06/17 03:53:33</text>
<text x="1334.64" y="2550.8" font-size="17.5" textLength="127.36" lengthAdjust="spacingAndGlyphs">06/17 03:53:43</text>
<text x="1619.37" y="2550.8" font-size="17.5" textLength="127.36" lengthAdjust="spacingAndGlyphs">06/17 03:53:53</text>
<text x="71.36" y="2532.5" font-size="17.5" textLength="36.37" lengthAdjust="spacingAndGlyphs">0.10</text>
<text x="71.71" y="2488.1" font-size="17.5" textLength="36.06" lengthAdjust="spacingAndGlyphs">0.15</text>
<text x="71.36" y="2443.7" font-size="17.5" textLength="36.37" lengthAdjust="spacingAndGlyphs">0.20</text>
<text x="71.71" y="2399.3" font-size="17.5" textLength="36.06" lengthAdjust="spacingAndGlyphs">0.25</text>
<text x="71.36" y="2354.9" font-size="17.5" textLength="36.37" lengthAdjust="spacingAndGlyphs">0.30</text>
<text x="71.71" y="2310.5" font-size="17.5" textLength="36.06" lengthAdjust="spacingAndGlyphs">0.35</text>
<text x="828.35" y="2295.4" font-size="24.57" textLength="141.75" lengthAdjust="spacingAndGlyphs">Plasma Beta</text>
<text transform="translate(52 2424.9) rotate(-90)" x="0.31" y="0" font-size="17" font-family='"Liberation Serif", serif' font-style="italic" style="stroke:none" textLength="9.71" lengthAdjust="spacingAndGlyphs">β</text>
<text transform="translate(54 2415.8) rotate(-90)" x="0.64" y="0" font-size="12" font-family='"Liberation Serif", serif' font-style="italic" style="stroke:none" textLength="5.49" lengthAdjust="spacingAndGlyphs">p</text>
<clipPath id="cT5"><rect x="117" y="2639.4" width="1566" height="222"/></clipPath>
<g clip-path="url(#cT5)">
<polyline points="117,2726.5 145.47,2708.9 173.95,2727.4 202.42,2735.4 230.89,2741.6 259.36,2740.8 287.84,2737.6 316.31,2753.6 344.78,2759.8 373.25,2741.3 401.73,2734.8 430.2,2749 458.67,2749.3 487.15,2770.4 515.62,2755.9 544.09,2765.2 572.56,2753.9 601.04,2751.6 629.51,2759.6 657.98,2765.5 686.45,2745 714.93,2744.7 743.4,2751.6 771.87,2773.8 800.35,2733.4 828.82,2729.4 857.29,2751.6 885.76,2693.2 914.24,2755.9 942.71,2755.9 971.18,2743 999.65,2769 1028.13,2754.4 1056.6,2780.3 1085.07,2764.4 1113.55,2764.1 1142.02,2773.2 1170.49,2778.3 1198.96,2771.5 1227.44,2757.6 1255.91,2770.4 1284.38,2803.1 1312.85,2785.7 1341.33,2816.8 1369.8,2842.7 1398.27,2854.1 1426.75,2825.6 1455.22,2835.3 1483.69,2835.3 1512.16,2845.8 1540.64,2850.4 1569.11,2830.4 1597.58,2789.2 1626.05,2665.3 1654.53,2705.2 1683,2668.7" fill="none" stroke="#0000ff" stroke-width="2.08" stroke-linejoin="round"/>
</g>
<rect x="117" y="2639.4" width="1566" height="222" fill="none" stroke="#000" stroke-width="2.08"/>
<line x1="259.36" y1="2861.4" x2="259.36" y2="2853.1" stroke="#000" stroke-width="1.05"/>
<line x1="259.36" y1="2639.4" x2="259.36" y2="2647.7" stroke="#000" stroke-width="1.05"/>
<line x1="544.09" y1="2861.4" x2="544.09" y2="2853.1" stroke="#000" stroke-width="1.05"/>
<line x1="544.09" y1="2639.4" x2="544.09" y2="2647.7" stroke="#000" stroke-width="1.05"/>
<line x1="828.82" y1="2861.4" x2="828.82" y2="2853.1" stroke="#000" stroke-width="1.05"/>
<line x1="828.82" y1="2639.4" x2="828.82" y2="2647.7" stroke="#000" stroke-width="1.05"/>
<line x1="1113.55" y1="2861.4" x2="1113.55" y2="2853.1" stroke="#000" stroke-width="1.05"/>
<line x1="1113.55" y1="2639.4" x2="1113.55" y2="2647.7" stroke="#000" stroke-width="1.05"/>
<line x1="1398.27" y1="2861.4" x2="1398.27" y2="2853.1" stroke="#000" stroke-width="1.05"/>
<line x1="1398.27" y1="2639.4" x2="1398.27" y2="2647.7" stroke="#000" stroke-width="1.05"/>
<line x1="117" y1="2829.69" x2="125.3" y2="2829.69" stroke="#000" stroke-width="1.05"/>
<line x1="1683" y1="2829.69" x2="1674.7" y2="2829.69" stroke="#000" stroke-width="1.05"/>
<line x1="117" y1="2797.97" x2="125.3" y2="2797.97" stroke="#000" stroke-width="1.05"/>
<line x1="1683" y1="2797.97" x2="1674.7" y2="2797.97" stroke="#000" stroke-width="1.05"/>
<line x1="117" y1="2766.26" x2="125.3" y2="2766.26" stroke="#000" stroke-width="1.05"/>
<line x1="1683" y1="2766.26" x2="1674.7" y2="2766.26" stroke="#000" stroke-width="1.05"/>
<line x1="117" y1="2734.54" x2="125.3" y2="2734.54" stroke="#000" stroke-width="1.05"/>
<line x1="1683" y1="2734.54" x2="1674.7" y2="2734.54" stroke="#000" stroke-width="1.05"/>
<line x1="117" y1="2702.83" x2="125.3" y2="2702.83" stroke="#000" stroke-width="1.05"/>
<line x1="1683" y1="2702.83" x2="1674.7" y2="2702.83" stroke="#000" stroke-width="1.05"/>
<line x1="117" y1="2671.11" x2="125.3" y2="2671.11" stroke="#000" stroke-width="1.05"/>
<line x1="1683" y1="2671.11" x2="1674.7" y2="2671.11" stroke="#000" stroke-width="1.05"/>
<text x="195.73" y="2884.4" font-size="17.5" textLength="127.36" lengthAdjust="spacingAndGlyphs">06/17 03:53:03</text>
<text x="480.46" y="2884.4" font-size="17.5" textLength="127.36" lengthAdjust="spacingAndGlyphs">06/17 03:53:13</text>
<text x="765.19" y="2884.4" font-size="17.5" textLength="127.36" lengthAdjust="spacingAndGlyphs">06/17 03:53:23</text>
<text x="1049.91" y="2884.4" font-size="17.5" textLength="127.36" lengthAdjust="spacingAndGlyphs">06/17 03:53:33</text>
<text x="1334.64" y="2884.4" font-size="17.5" textLength="127.36" lengthAdjust="spacingAndGlyphs">06/17 03:53:43</text>
<text x="1619.37" y="2884.4" font-size="17.5" textLength="127.36" lengthAdjust="spacingAndGlyphs">06/17 03:53:53</text>
<text x="87.22" y="2866.1" font-size="17.5" textLength="20.5" lengthAdjust="spacingAndGlyphs">80</text>
<text x="87.59" y="2834.39" font-size="17.5" textLength="20.18" lengthAdjust="spacingAndGlyphs">85</text>
<text x="87.07" y="2802.67" font-size="17.5" textLength="20.65" lengthAdjust="spacingAndGlyphs">90</text>
<text x="87.44" y="2770.96" font-size="17.5" textLength="20.33" lengthAdjust="spacingAndGlyphs">95</text>
<text x="76.7" y="2739.24" font-size="17.5" textLength="31.02" lengthAdjust="spacingAndGlyphs">100</text>
<text x="77.07" y="2707.53" font-size="17.5" textLength="30.71" lengthAdjust="spacingAndGlyphs">105</text>
<text x="76.7" y="2675.81" font-size="17.5" textLength="31.02" lengthAdjust="spacingAndGlyphs">110</text>
<text x="77.07" y="2644.1" font-size="17.5" textLength="30.71" lengthAdjust="spacingAndGlyphs">115</text>
<text x="765.38" y="2629.3" font-size="24.57" textLength="268.27" lengthAdjust="spacingAndGlyphs">Proton Number Density</text>
<text transform="translate(62.9 2752.7) rotate(-90)" x="-37.05" y="0" font-size="17.5" textLength="73.72" lengthAdjust="spacingAndGlyphs">Np(#/cc)</text>
<clipPath id="cT6"><rect x="117" y="2973" width="1566" height="222"/></clipPath>
<g clip-path="url(#cT6)">
<polyline points="117,3122.3 145.47,3097 173.95,3071.3 202.42,3077 230.89,3120.9 259.36,3099.2 287.84,3022.1 316.31,3116.6 344.78,3145.9 373.25,3092.4 401.73,3181 430.2,3111.8 458.67,3115.8 487.15,3114.9 515.62,3118.6 544.09,3109.2 572.56,3126.9 601.04,3110.9 629.51,3111.2 657.98,3120.3 686.45,3085.6 714.93,3093.6 743.4,3095.3 771.87,3101 800.35,3094.4 828.82,3074.5 857.29,3121.2 885.76,3116 914.24,3073.3 942.71,3074.5 971.18,3073.9 999.65,3086.7 1028.13,3073.6 1056.6,3098.1 1085.07,3052 1113.55,3030.1 1142.02,3083.6 1170.49,3081.9 1198.96,3075 1227.44,3043.7 1255.91,2975.7 1284.38,3072.8 1312.85,3077 1341.33,3093.6 1369.8,3060.5 1398.27,3086.7 1426.75,3037.5 1455.22,3050.8 1483.69,3069.6 1512.16,3073.9 1540.64,3056 1569.11,3050.6 1597.58,3068.2 1626.05,3058.2 1654.53,3039.7 1683,3015.8" fill="none" stroke="#0000ff" stroke-width="2.08" stroke-linejoin="round"/>
</g>
<rect x="117" y="2973" width="1566" height="222" fill="none" stroke="#000" stroke-width="2.08"/>
<line x1="259.36" y1="3195" x2="259.36" y2="3186.7" stroke="#000" stroke-width="1.05"/>
<line x1="259.36" y1="2973" x2="259.36" y2="2981.3" stroke="#000" stroke-width="1.05"/>
<line x1="544.09" y1="3195" x2="544.09" y2="3186.7" stroke="#000" stroke-width="1.05"/>
<line x1="544.09" y1="2973" x2="544.09" y2="2981.3" stroke="#000" stroke-width="1.05"/>
<line x1="828.82" y1="3195" x2="828.82" y2="3186.7" stroke="#000" stroke-width="1.05"/>
<line x1="828.82" y1="2973" x2="828.82" y2="2981.3" stroke="#000" stroke-width="1.05"/>
<line x1="1113.55" y1="3195" x2="1113.55" y2="3186.7" stroke="#000" stroke-width="1.05"/>
<line x1="1113.55" y1="2973" x2="1113.55" y2="2981.3" stroke="#000" stroke-width="1.05"/>
<line x1="1398.27" y1="3195" x2="1398.27" y2="3186.7" stroke="#000" stroke-width="1.05"/>
<line x1="1398.27" y1="2973" x2="1398.27" y2="2981.3" stroke="#000" stroke-width="1.05"/>
<line x1="117" y1="3167.25" x2="125.3" y2="3167.25" stroke="#000" stroke-width="1.05"/>
<line x1="1683" y1="3167.25" x2="1674.7" y2="3167.25" stroke="#000" stroke-width="1.05"/>
<line x1="117" y1="3139.5" x2="125.3" y2="3139.5" stroke="#000" stroke-width="1.05"/>
<line x1="1683" y1="3139.5" x2="1674.7" y2="3139.5" stroke="#000" stroke-width="1.05"/>
<line x1="117" y1="3111.75" x2="125.3" y2="3111.75" stroke="#000" stroke-width="1.05"/>
<line x1="1683" y1="3111.75" x2="1674.7" y2="3111.75" stroke="#000" stroke-width="1.05"/>
<line x1="117" y1="3084" x2="125.3" y2="3084" stroke="#000" stroke-width="1.05"/>
<line x1="1683" y1="3084" x2="1674.7" y2="3084" stroke="#000" stroke-width="1.05"/>
<line x1="117" y1="3056.25" x2="125.3" y2="3056.25" stroke="#000" stroke-width="1.05"/>
<line x1="1683" y1="3056.25" x2="1674.7" y2="3056.25" stroke="#000" stroke-width="1.05"/>
<line x1="117" y1="3028.5" x2="125.3" y2="3028.5" stroke="#000" stroke-width="1.05"/>
<line x1="1683" y1="3028.5" x2="1674.7" y2="3028.5" stroke="#000" stroke-width="1.05"/>
<line x1="117" y1="3000.75" x2="125.3" y2="3000.75" stroke="#000" stroke-width="1.05"/>
<line x1="1683" y1="3000.75" x2="1674.7" y2="3000.75" stroke="#000" stroke-width="1.05"/>
<text x="195.73" y="3218" font-size="17.5" textLength="127.36" lengthAdjust="spacingAndGlyphs">06/17 03:53:03</text>
<text x="480.46" y="3218" font-size="17.5" textLength="127.36" lengthAdjust="spacingAndGlyphs">06/17 03:53:13</text>
<text x="765.19" y="3218" font-size="17.5" textLength="127.36" lengthAdjust="spacingAndGlyphs">06/17 03:53:23</text>
<text x="1049.91" y="3218" font-size="17.5" textLength="127.36" lengthAdjust="spacingAndGlyphs">06/17 03:53:33</text>
<text x="1334.64" y="3218" font-size="17.5" textLength="127.36" lengthAdjust="spacingAndGlyphs">06/17 03:53:43</text>
<text x="1619.37" y="3218" font-size="17.5" textLength="127.36" lengthAdjust="spacingAndGlyphs">06/17 03:53:53</text>
<text x="71.93" y="3199.7" font-size="17.5" textLength="36" lengthAdjust="spacingAndGlyphs">0.12</text>
<text x="71.19" y="3171.95" font-size="17.5" textLength="36.36" lengthAdjust="spacingAndGlyphs">0.14</text>
<text x="71.3" y="3144.2" font-size="17.5" textLength="36.53" lengthAdjust="spacingAndGlyphs">0.16</text>
<text x="71.39" y="3116.45" font-size="17.5" textLength="36.42" lengthAdjust="spacingAndGlyphs">0.18</text>
<text x="71.36" y="3088.7" font-size="17.5" textLength="36.37" lengthAdjust="spacingAndGlyphs">0.20</text>
<text x="71.93" y="3060.95" font-size="17.5" textLength="36" lengthAdjust="spacingAndGlyphs">0.22</text>
<text x="71.19" y="3033.2" font-size="17.5" textLength="36.36" lengthAdjust="spacingAndGlyphs">0.24</text>
<text x="71.3" y="3005.45" font-size="17.5" textLength="36.53" lengthAdjust="spacingAndGlyphs">0.26</text>
<text x="71.39" y="2977.7" font-size="17.5" textLength="36.42" lengthAdjust="spacingAndGlyphs">0.28</text>
<rect x="123.7" y="2980" width="71.1" height="26.4" fill="#fff" stroke="#000" stroke-width="2.08"/>
<line x1="134.2" y1="2993" x2="155.6" y2="2993" stroke="#0000ff" stroke-width="2.08"/>
<text x="170.84" y="2998" font-size="16.2" textLength="18.58" lengthAdjust="spacingAndGlyphs">Tp</text>
<text x="727.57" y="2960.9" font-size="24.57" textLength="282.3" lengthAdjust="spacingAndGlyphs">Proton Temperature and</text>
<text x="1014.43" y="2960.9" font-size="21.5" font-family='"Liberation Serif", serif' font-style="italic" style="stroke:none" textLength="15.88" lengthAdjust="spacingAndGlyphs">T</text>
<text x="1030.2" y="2963.3" font-size="14.5" font-family='"Liberation Serif", serif' font-style="italic" style="stroke:none" textLength="7.27" lengthAdjust="spacingAndGlyphs">e</text>
<text x="1040.3" y="2963.5" font-size="22.5" font-family='"Liberation Serif", serif' style="stroke:none" textLength="8.3" lengthAdjust="spacingAndGlyphs">/</text>
<text x="1048.67" y="2960.9" font-size="21.5" font-family='"Liberation Serif", serif' font-style="italic" style="stroke:none" textLength="15.58" lengthAdjust="spacingAndGlyphs">T</text>
<text x="1063.35" y="2963.3" font-size="14.5" font-family='"Liberation Serif", serif' font-style="italic" style="stroke:none" textLength="8.14" lengthAdjust="spacingAndGlyphs">p</text>
<text transform="translate(52.7 3118.6) rotate(-90)" x="-0.38" y="0" font-size="17.5" textLength="25.18" lengthAdjust="spacingAndGlyphs">Tp(</text>
<text transform="translate(52.7 3090.5) rotate(-90)" x="-1.45" y="0" font-size="17" font-family='"Liberation Serif", serif' style="stroke:none" textLength="16.48" lengthAdjust="spacingAndGlyphs">10</text>
<text transform="translate(46.8 3074.8) rotate(-90)" x="-0.56" y="0" font-size="11.5" font-family='"Liberation Serif", serif' style="stroke:none" textLength="6.55" lengthAdjust="spacingAndGlyphs">6</text>
<text transform="translate(52.7 3066.7) rotate(-90)" x="-1.43" y="0" font-size="17.5" textLength="17.41" lengthAdjust="spacingAndGlyphs">K)</text>
</svg>
</body></html>
